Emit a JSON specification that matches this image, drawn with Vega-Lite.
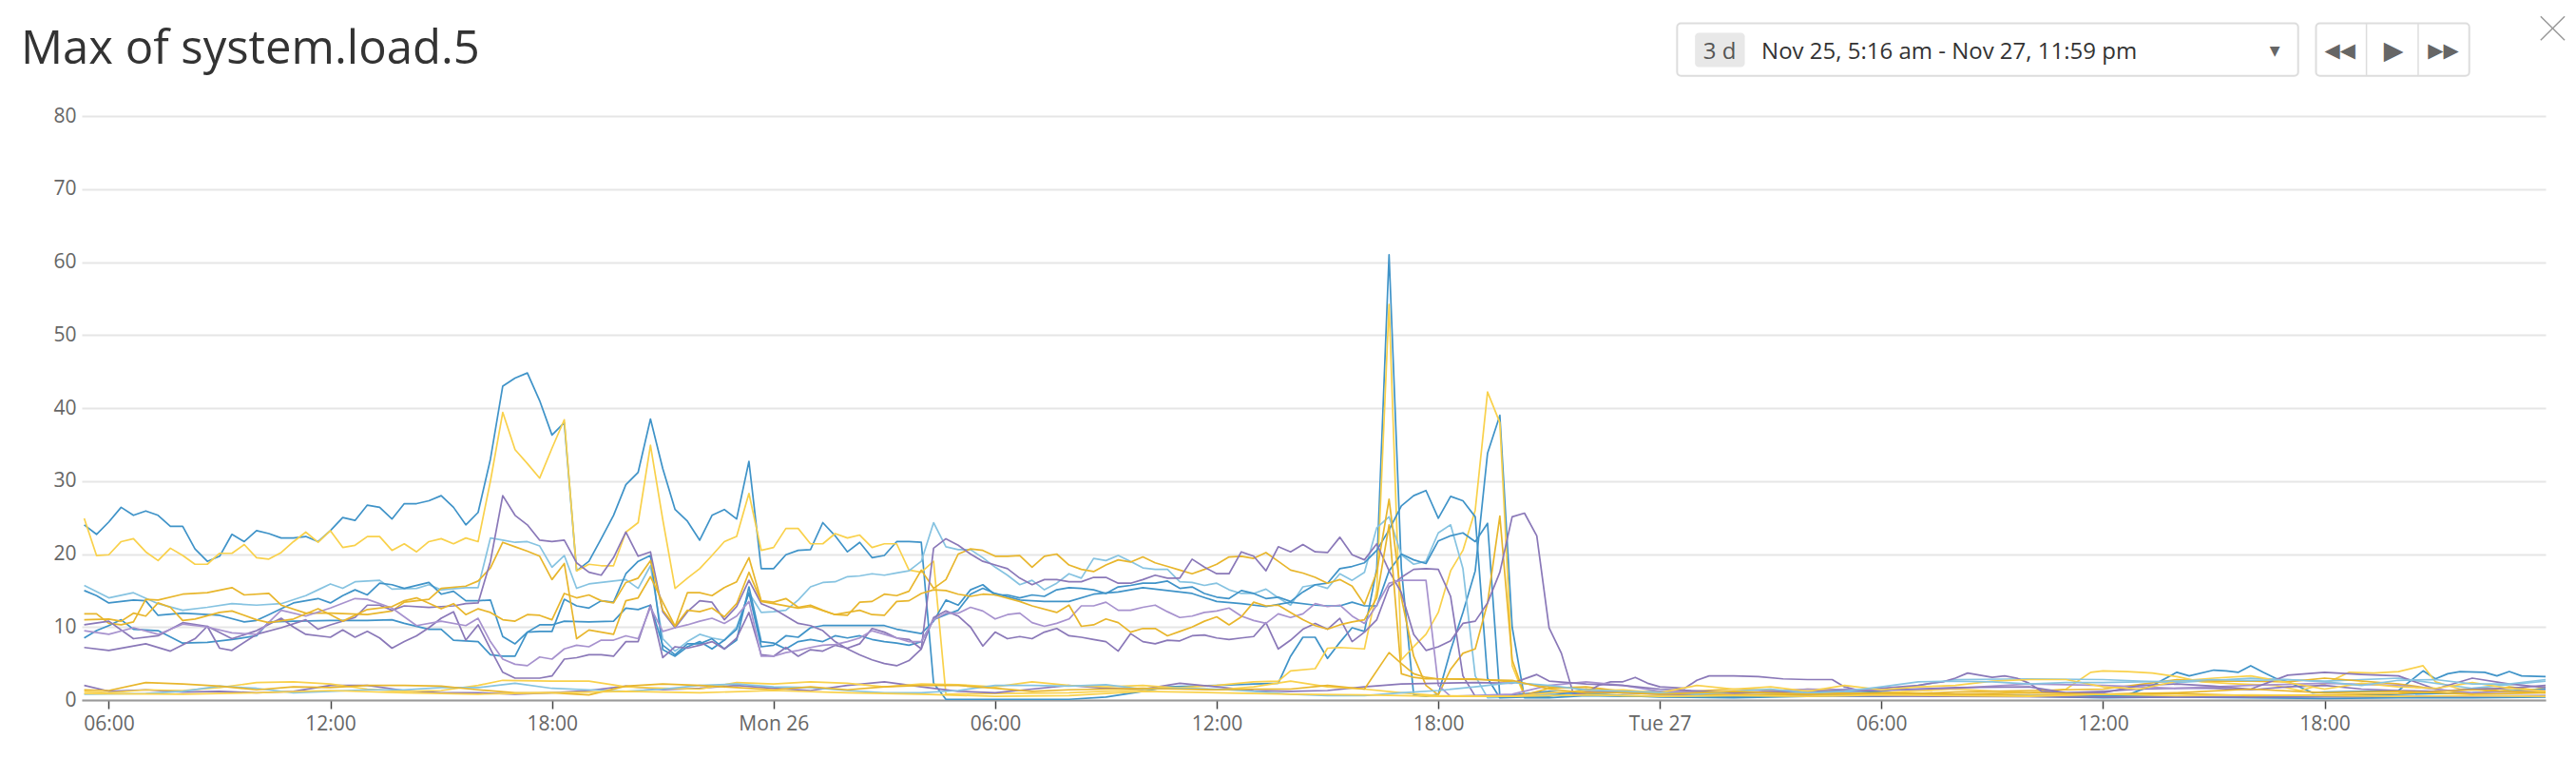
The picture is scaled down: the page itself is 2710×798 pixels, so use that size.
{
  "$schema": "https://vega.github.io/schema/vega-lite/v6.json",
  "width": 2592,
  "height": 614,
  "autosize": {"type": "none"},
  "padding": {"left": 86, "top": 122, "right": 32, "bottom": 62},
  "title": {
    "text": "Max of system.load.5",
    "anchor": "start",
    "frame": "group",
    "dx": -64,
    "offset": -100,
    "baseline": "alphabetic",
    "font": "Open Sans",
    "fontSize": 49,
    "fontWeight": "normal",
    "color": "#333333"
  },
  "config": {"view": {"stroke": null}},
  "layer": [
    {
      "data": {
        "format": {"parse": {"t": "utc:'%Y-%m-%d %H:%M'"}},
        "values": [
        {"s":"A","t":"2018-11-25 05:20","v":24.0},{"s":"A","t":"2018-11-25 05:40","v":22.7},{"s":"A","t":"2018-11-25 06:00","v":24.4},{"s":"A","t":"2018-11-25 06:20","v":26.4},{"s":"A","t":"2018-11-25 06:40","v":25.3},{"s":"A","t":"2018-11-25 07:00","v":25.9},{"s":"A","t":"2018-11-25 07:20","v":25.3},{"s":"A","t":"2018-11-25 07:40","v":23.8},{"s":"A","t":"2018-11-25 08:00","v":23.8},{"s":"A","t":"2018-11-25 08:20","v":20.7},{"s":"A","t":"2018-11-25 08:40","v":19.0},{"s":"A","t":"2018-11-25 09:00","v":19.7},{"s":"A","t":"2018-11-25 09:20","v":22.7},{"s":"A","t":"2018-11-25 09:40","v":21.7},{"s":"A","t":"2018-11-25 10:00","v":23.2},{"s":"A","t":"2018-11-25 10:20","v":22.8},{"s":"A","t":"2018-11-25 10:40","v":22.2},{"s":"A","t":"2018-11-25 11:00","v":22.2},{"s":"A","t":"2018-11-25 11:20","v":22.4},{"s":"A","t":"2018-11-25 11:40","v":21.7},{"s":"A","t":"2018-11-25 12:00","v":23.2},{"s":"A","t":"2018-11-25 12:20","v":25.0},{"s":"A","t":"2018-11-25 12:40","v":24.6},{"s":"A","t":"2018-11-25 13:00","v":26.7},{"s":"A","t":"2018-11-25 13:20","v":26.4},{"s":"A","t":"2018-11-25 13:40","v":24.8},{"s":"A","t":"2018-11-25 14:00","v":26.9},{"s":"A","t":"2018-11-25 14:20","v":26.9},{"s":"A","t":"2018-11-25 14:40","v":27.3},{"s":"A","t":"2018-11-25 15:00","v":28.0},{"s":"A","t":"2018-11-25 15:20","v":26.4},{"s":"A","t":"2018-11-25 15:40","v":24.0},{"s":"A","t":"2018-11-25 16:00","v":25.7},{"s":"A","t":"2018-11-25 16:20","v":33.0},{"s":"A","t":"2018-11-25 16:40","v":43.0},{"s":"A","t":"2018-11-25 17:00","v":44.1},{"s":"A","t":"2018-11-25 17:20","v":44.8},{"s":"A","t":"2018-11-25 17:40","v":41.0},{"s":"A","t":"2018-11-25 18:00","v":36.3},{"s":"A","t":"2018-11-25 18:20","v":38.0},{"s":"A","t":"2018-11-25 18:40","v":17.7},{"s":"A","t":"2018-11-25 19:00","v":19.0},{"s":"A","t":"2018-11-25 19:20","v":22.1},{"s":"A","t":"2018-11-25 19:40","v":25.3},{"s":"A","t":"2018-11-25 20:00","v":29.5},{"s":"A","t":"2018-11-25 20:20","v":31.2},{"s":"A","t":"2018-11-25 20:40","v":38.5},{"s":"A","t":"2018-11-25 21:00","v":31.7},{"s":"A","t":"2018-11-25 21:20","v":26.1},{"s":"A","t":"2018-11-25 21:40","v":24.5},{"s":"A","t":"2018-11-25 22:00","v":21.9},{"s":"A","t":"2018-11-25 22:20","v":25.3},{"s":"A","t":"2018-11-25 22:40","v":26.1},{"s":"A","t":"2018-11-25 23:00","v":24.8},{"s":"A","t":"2018-11-25 23:20","v":32.7},{"s":"A","t":"2018-11-25 23:40","v":18.0},
        {"s":"A","t":"2018-11-26 00:00","v":18.0},{"s":"A","t":"2018-11-26 00:20","v":19.9},{"s":"A","t":"2018-11-26 00:40","v":20.5},{"s":"A","t":"2018-11-26 01:00","v":20.6},{"s":"A","t":"2018-11-26 01:20","v":24.3},{"s":"A","t":"2018-11-26 01:40","v":22.5},{"s":"A","t":"2018-11-26 02:00","v":20.3},{"s":"A","t":"2018-11-26 02:20","v":21.6},{"s":"A","t":"2018-11-26 02:40","v":19.5},{"s":"A","t":"2018-11-26 03:00","v":19.8},{"s":"A","t":"2018-11-26 03:20","v":21.7},{"s":"A","t":"2018-11-26 03:40","v":21.7},{"s":"A","t":"2018-11-26 04:00","v":21.6},{"s":"A","t":"2018-11-26 04:20","v":2.3},{"s":"A","t":"2018-11-26 04:40","v":0.1},{"s":"A","t":"2018-11-26 06:00","v":0.1},{"s":"A","t":"2018-11-26 08:00","v":0.1},{"s":"A","t":"2018-11-26 09:00","v":0.4},{"s":"A","t":"2018-11-26 10:00","v":1.2},{"s":"A","t":"2018-11-26 10:40","v":1.8},{"s":"A","t":"2018-11-26 12:00","v":2.0},{"s":"A","t":"2018-11-26 13:00","v":2.2},{"s":"A","t":"2018-11-26 13:40","v":2.3},{"s":"A","t":"2018-11-26 14:00","v":6.0},{"s":"A","t":"2018-11-26 14:20","v":8.6},{"s":"A","t":"2018-11-26 14:40","v":8.6},{"s":"A","t":"2018-11-26 15:00","v":5.7},{"s":"A","t":"2018-11-26 15:20","v":7.9},{"s":"A","t":"2018-11-26 15:40","v":9.9},{"s":"A","t":"2018-11-26 16:00","v":9.4},{"s":"A","t":"2018-11-26 16:20","v":18.0},{"s":"A","t":"2018-11-26 16:40","v":61.0},{"s":"A","t":"2018-11-26 17:00","v":18.0},{"s":"A","t":"2018-11-26 17:20","v":0.7},{"s":"A","t":"2018-11-26 17:40","v":0.5},{"s":"A","t":"2018-11-26 18:00","v":0.8},{"s":"A","t":"2018-11-26 18:20","v":6.8},{"s":"A","t":"2018-11-26 18:40","v":12.0},{"s":"A","t":"2018-11-26 19:00","v":17.7},{"s":"A","t":"2018-11-26 19:20","v":33.8},{"s":"A","t":"2018-11-26 19:40","v":39.0},{"s":"A","t":"2018-11-26 20:00","v":10.0},{"s":"A","t":"2018-11-26 20:20","v":0.3},{"s":"A","t":"2018-11-26 21:00","v":0.3},{"s":"A","t":"2018-11-26 22:00","v":0.6},{"s":"A","t":"2018-11-26 23:00","v":0.5},
        {"s":"A","t":"2018-11-27 00:00","v":0.5},{"s":"A","t":"2018-11-27 02:00","v":0.4},{"s":"A","t":"2018-11-27 04:00","v":0.6},{"s":"A","t":"2018-11-27 06:00","v":0.5},{"s":"A","t":"2018-11-27 08:00","v":0.8},{"s":"A","t":"2018-11-27 10:00","v":0.6},{"s":"A","t":"2018-11-27 12:00","v":0.7},{"s":"A","t":"2018-11-27 12:40","v":0.7},{"s":"A","t":"2018-11-27 13:20","v":2.0},{"s":"A","t":"2018-11-27 14:00","v":3.8},{"s":"A","t":"2018-11-27 14:20","v":3.3},{"s":"A","t":"2018-11-27 15:00","v":4.1},{"s":"A","t":"2018-11-27 15:20","v":4.0},{"s":"A","t":"2018-11-27 15:40","v":3.8},{"s":"A","t":"2018-11-27 16:00","v":4.7},{"s":"A","t":"2018-11-27 16:20","v":3.8},{"s":"A","t":"2018-11-27 16:40","v":3.0},{"s":"A","t":"2018-11-27 17:00","v":2.5},{"s":"A","t":"2018-11-27 17:40","v":1.0},{"s":"A","t":"2018-11-27 18:00","v":1.1},{"s":"A","t":"2018-11-27 19:00","v":1.2},{"s":"A","t":"2018-11-27 20:00","v":1.3},{"s":"A","t":"2018-11-27 20:40","v":4.0},{"s":"A","t":"2018-11-27 21:00","v":2.9},{"s":"A","t":"2018-11-27 21:20","v":3.6},{"s":"A","t":"2018-11-27 21:40","v":3.9},{"s":"A","t":"2018-11-27 22:20","v":3.8},{"s":"A","t":"2018-11-27 22:40","v":3.3},{"s":"A","t":"2018-11-27 23:00","v":3.9},{"s":"A","t":"2018-11-27 23:20","v":3.3},{"s":"A","t":"2018-11-27 23:59","v":3.2},

        {"s":"B","t":"2018-11-25 05:20","v":24.9},{"s":"B","t":"2018-11-25 05:40","v":19.8},{"s":"B","t":"2018-11-25 06:00","v":19.9},{"s":"B","t":"2018-11-25 06:20","v":21.7},{"s":"B","t":"2018-11-25 06:40","v":22.1},{"s":"B","t":"2018-11-25 07:00","v":20.3},{"s":"B","t":"2018-11-25 07:20","v":19.1},{"s":"B","t":"2018-11-25 07:40","v":20.8},{"s":"B","t":"2018-11-25 08:00","v":19.8},{"s":"B","t":"2018-11-25 08:20","v":18.6},{"s":"B","t":"2018-11-25 08:40","v":18.6},{"s":"B","t":"2018-11-25 09:00","v":20.1},{"s":"B","t":"2018-11-25 09:20","v":20.1},{"s":"B","t":"2018-11-25 09:40","v":21.3},{"s":"B","t":"2018-11-25 10:00","v":19.5},{"s":"B","t":"2018-11-25 10:20","v":19.3},{"s":"B","t":"2018-11-25 10:40","v":20.2},{"s":"B","t":"2018-11-25 11:00","v":21.7},{"s":"B","t":"2018-11-25 11:20","v":23.0},{"s":"B","t":"2018-11-25 11:40","v":21.6},{"s":"B","t":"2018-11-25 12:00","v":23.2},{"s":"B","t":"2018-11-25 12:20","v":20.9},{"s":"B","t":"2018-11-25 12:40","v":21.2},{"s":"B","t":"2018-11-25 13:00","v":22.4},{"s":"B","t":"2018-11-25 13:20","v":22.4},{"s":"B","t":"2018-11-25 13:40","v":20.5},{"s":"B","t":"2018-11-25 14:00","v":21.4},{"s":"B","t":"2018-11-25 14:20","v":20.3},{"s":"B","t":"2018-11-25 14:40","v":21.7},{"s":"B","t":"2018-11-25 15:00","v":22.1},{"s":"B","t":"2018-11-25 15:20","v":21.4},{"s":"B","t":"2018-11-25 15:40","v":22.2},{"s":"B","t":"2018-11-25 16:00","v":21.7},{"s":"B","t":"2018-11-25 16:20","v":30.0},{"s":"B","t":"2018-11-25 16:40","v":39.4},{"s":"B","t":"2018-11-25 17:00","v":34.3},{"s":"B","t":"2018-11-25 17:20","v":32.4},{"s":"B","t":"2018-11-25 17:40","v":30.4},{"s":"B","t":"2018-11-25 18:00","v":34.5},{"s":"B","t":"2018-11-25 18:20","v":38.4},{"s":"B","t":"2018-11-25 18:40","v":17.7},{"s":"B","t":"2018-11-25 19:00","v":18.6},{"s":"B","t":"2018-11-25 19:20","v":18.4},{"s":"B","t":"2018-11-25 19:40","v":18.4},{"s":"B","t":"2018-11-25 20:00","v":23.0},{"s":"B","t":"2018-11-25 20:20","v":24.3},{"s":"B","t":"2018-11-25 20:40","v":34.9},{"s":"B","t":"2018-11-25 21:00","v":24.7},{"s":"B","t":"2018-11-25 21:20","v":15.3},{"s":"B","t":"2018-11-25 21:40","v":16.7},{"s":"B","t":"2018-11-25 22:00","v":18.0},{"s":"B","t":"2018-11-25 22:20","v":19.8},{"s":"B","t":"2018-11-25 22:40","v":21.7},{"s":"B","t":"2018-11-25 23:00","v":22.4},{"s":"B","t":"2018-11-25 23:20","v":28.3},{"s":"B","t":"2018-11-25 23:40","v":20.5},
        {"s":"B","t":"2018-11-26 00:00","v":20.9},{"s":"B","t":"2018-11-26 00:20","v":23.5},{"s":"B","t":"2018-11-26 00:40","v":23.5},{"s":"B","t":"2018-11-26 01:00","v":21.4},{"s":"B","t":"2018-11-26 01:20","v":21.4},{"s":"B","t":"2018-11-26 01:40","v":22.8},{"s":"B","t":"2018-11-26 02:00","v":22.2},{"s":"B","t":"2018-11-26 02:20","v":22.6},{"s":"B","t":"2018-11-26 02:40","v":20.9},{"s":"B","t":"2018-11-26 03:00","v":21.4},{"s":"B","t":"2018-11-26 03:20","v":21.4},{"s":"B","t":"2018-11-26 03:40","v":17.8},{"s":"B","t":"2018-11-26 04:00","v":17.5},{"s":"B","t":"2018-11-26 04:20","v":19.0},{"s":"B","t":"2018-11-26 04:40","v":0.8},{"s":"B","t":"2018-11-26 06:00","v":0.9},{"s":"B","t":"2018-11-26 08:00","v":1.0},{"s":"B","t":"2018-11-26 10:00","v":1.4},{"s":"B","t":"2018-11-26 12:00","v":2.0},{"s":"B","t":"2018-11-26 13:00","v":2.5},{"s":"B","t":"2018-11-26 13:40","v":2.6},{"s":"B","t":"2018-11-26 14:00","v":4.0},{"s":"B","t":"2018-11-26 14:40","v":4.3},{"s":"B","t":"2018-11-26 15:00","v":7.1},{"s":"B","t":"2018-11-26 15:20","v":7.2},{"s":"B","t":"2018-11-26 16:00","v":7.0},{"s":"B","t":"2018-11-26 16:20","v":15.0},{"s":"B","t":"2018-11-26 16:40","v":54.2},{"s":"B","t":"2018-11-26 17:00","v":5.5},{"s":"B","t":"2018-11-26 17:20","v":7.3},{"s":"B","t":"2018-11-26 17:40","v":9.0},{"s":"B","t":"2018-11-26 18:00","v":12.0},{"s":"B","t":"2018-11-26 18:20","v":17.7},{"s":"B","t":"2018-11-26 18:40","v":20.5},{"s":"B","t":"2018-11-26 19:00","v":26.0},{"s":"B","t":"2018-11-26 19:20","v":42.2},{"s":"B","t":"2018-11-26 19:40","v":38.0},{"s":"B","t":"2018-11-26 20:00","v":4.7},{"s":"B","t":"2018-11-26 20:20","v":0.5},{"s":"B","t":"2018-11-26 21:00","v":0.6},{"s":"B","t":"2018-11-26 22:00","v":0.8},{"s":"B","t":"2018-11-26 23:00","v":0.6},
        {"s":"B","t":"2018-11-27 00:00","v":0.5},{"s":"B","t":"2018-11-27 02:00","v":0.8},{"s":"B","t":"2018-11-27 04:00","v":1.5},{"s":"B","t":"2018-11-27 06:00","v":1.0},{"s":"B","t":"2018-11-27 08:00","v":1.5},{"s":"B","t":"2018-11-27 10:00","v":1.0},{"s":"B","t":"2018-11-27 11:00","v":1.5},{"s":"B","t":"2018-11-27 11:40","v":3.8},{"s":"B","t":"2018-11-27 12:00","v":4.0},{"s":"B","t":"2018-11-27 12:40","v":3.9},{"s":"B","t":"2018-11-27 13:20","v":3.7},{"s":"B","t":"2018-11-27 14:00","v":3.2},{"s":"B","t":"2018-11-27 14:40","v":2.5},{"s":"B","t":"2018-11-27 15:40","v":2.2},{"s":"B","t":"2018-11-27 16:40","v":2.0},{"s":"B","t":"2018-11-27 17:20","v":1.3},{"s":"B","t":"2018-11-27 18:00","v":2.2},{"s":"B","t":"2018-11-27 18:40","v":3.8},{"s":"B","t":"2018-11-27 19:20","v":3.7},{"s":"B","t":"2018-11-27 20:00","v":3.9},{"s":"B","t":"2018-11-27 20:40","v":4.7},{"s":"B","t":"2018-11-27 21:00","v":2.5},{"s":"B","t":"2018-11-27 21:40","v":1.5},{"s":"B","t":"2018-11-27 22:40","v":1.6},{"s":"B","t":"2018-11-27 23:20","v":1.0},{"s":"B","t":"2018-11-27 23:59","v":1.8},

        {"s":"C","t":"2018-11-25 05:20","v":15.7},{"s":"C","t":"2018-11-25 06:00","v":14.0},{"s":"C","t":"2018-11-25 06:40","v":14.7},{"s":"C","t":"2018-11-25 07:20","v":13.2},{"s":"C","t":"2018-11-25 08:00","v":12.3},{"s":"C","t":"2018-11-25 08:40","v":12.7},{"s":"C","t":"2018-11-25 09:20","v":13.2},{"s":"C","t":"2018-11-25 10:00","v":13.0},{"s":"C","t":"2018-11-25 10:40","v":13.2},{"s":"C","t":"2018-11-25 11:20","v":14.3},{"s":"C","t":"2018-11-25 11:40","v":15.1},{"s":"C","t":"2018-11-25 12:00","v":15.9},{"s":"C","t":"2018-11-25 12:20","v":15.3},{"s":"C","t":"2018-11-25 12:40","v":16.2},{"s":"C","t":"2018-11-25 13:20","v":16.4},{"s":"C","t":"2018-11-25 13:40","v":15.2},{"s":"C","t":"2018-11-25 14:20","v":15.3},{"s":"C","t":"2018-11-25 14:40","v":15.8},{"s":"C","t":"2018-11-25 15:00","v":15.1},{"s":"C","t":"2018-11-25 15:40","v":15.4},{"s":"C","t":"2018-11-25 16:00","v":15.4},{"s":"C","t":"2018-11-25 16:20","v":22.2},{"s":"C","t":"2018-11-25 16:40","v":21.9},{"s":"C","t":"2018-11-25 17:00","v":21.6},{"s":"C","t":"2018-11-25 17:20","v":21.7},{"s":"C","t":"2018-11-25 17:40","v":21.1},{"s":"C","t":"2018-11-25 18:00","v":18.2},{"s":"C","t":"2018-11-25 18:20","v":19.8},{"s":"C","t":"2018-11-25 18:40","v":15.3},{"s":"C","t":"2018-11-25 19:00","v":15.9},{"s":"C","t":"2018-11-25 19:20","v":16.1},{"s":"C","t":"2018-11-25 19:40","v":16.3},{"s":"C","t":"2018-11-25 20:00","v":16.5},{"s":"C","t":"2018-11-25 20:20","v":15.3},{"s":"C","t":"2018-11-25 20:40","v":18.4},{"s":"C","t":"2018-11-25 21:00","v":8.4},{"s":"C","t":"2018-11-25 21:20","v":6.7},{"s":"C","t":"2018-11-25 21:40","v":8.0},{"s":"C","t":"2018-11-25 22:00","v":9.0},{"s":"C","t":"2018-11-25 22:20","v":8.5},{"s":"C","t":"2018-11-25 22:40","v":8.2},{"s":"C","t":"2018-11-25 23:00","v":10.0},{"s":"C","t":"2018-11-25 23:20","v":14.7},{"s":"C","t":"2018-11-25 23:40","v":12.0},
        {"s":"C","t":"2018-11-26 00:00","v":12.1},{"s":"C","t":"2018-11-26 00:20","v":12.3},{"s":"C","t":"2018-11-26 00:40","v":13.7},{"s":"C","t":"2018-11-26 01:00","v":15.5},{"s":"C","t":"2018-11-26 01:20","v":16.1},{"s":"C","t":"2018-11-26 01:40","v":16.2},{"s":"C","t":"2018-11-26 02:00","v":16.9},{"s":"C","t":"2018-11-26 02:20","v":17.0},{"s":"C","t":"2018-11-26 02:40","v":17.3},{"s":"C","t":"2018-11-26 03:00","v":17.1},{"s":"C","t":"2018-11-26 03:20","v":17.4},{"s":"C","t":"2018-11-26 03:40","v":17.7},{"s":"C","t":"2018-11-26 04:00","v":19.0},{"s":"C","t":"2018-11-26 04:20","v":24.3},{"s":"C","t":"2018-11-26 04:40","v":21.0},{"s":"C","t":"2018-11-26 05:00","v":20.6},{"s":"C","t":"2018-11-26 05:20","v":20.6},{"s":"C","t":"2018-11-26 05:40","v":19.5},{"s":"C","t":"2018-11-26 06:00","v":18.2},{"s":"C","t":"2018-11-26 06:20","v":17.1},{"s":"C","t":"2018-11-26 06:40","v":15.8},{"s":"C","t":"2018-11-26 07:00","v":16.4},{"s":"C","t":"2018-11-26 07:20","v":15.1},{"s":"C","t":"2018-11-26 07:40","v":16.0},{"s":"C","t":"2018-11-26 08:00","v":17.3},{"s":"C","t":"2018-11-26 08:20","v":16.7},{"s":"C","t":"2018-11-26 08:40","v":19.4},{"s":"C","t":"2018-11-26 09:00","v":19.1},{"s":"C","t":"2018-11-26 09:20","v":19.8},{"s":"C","t":"2018-11-26 09:40","v":19.0},{"s":"C","t":"2018-11-26 10:00","v":18.1},{"s":"C","t":"2018-11-26 10:20","v":17.9},{"s":"C","t":"2018-11-26 10:40","v":17.9},{"s":"C","t":"2018-11-26 11:00","v":16.2},{"s":"C","t":"2018-11-26 11:20","v":16.1},{"s":"C","t":"2018-11-26 11:40","v":15.7},{"s":"C","t":"2018-11-26 12:00","v":16.0},{"s":"C","t":"2018-11-26 12:20","v":15.1},{"s":"C","t":"2018-11-26 12:40","v":14.6},{"s":"C","t":"2018-11-26 13:00","v":14.6},{"s":"C","t":"2018-11-26 13:20","v":15.2},{"s":"C","t":"2018-11-26 13:40","v":14.0},{"s":"C","t":"2018-11-26 14:00","v":13.0},{"s":"C","t":"2018-11-26 14:20","v":15.5},{"s":"C","t":"2018-11-26 14:40","v":15.8},{"s":"C","t":"2018-11-26 15:00","v":15.3},{"s":"C","t":"2018-11-26 15:20","v":17.3},{"s":"C","t":"2018-11-26 15:40","v":16.4},{"s":"C","t":"2018-11-26 16:00","v":17.5},{"s":"C","t":"2018-11-26 16:20","v":23.6},{"s":"C","t":"2018-11-26 16:40","v":25.1},{"s":"C","t":"2018-11-26 17:00","v":19.9},{"s":"C","t":"2018-11-26 17:20","v":18.6},{"s":"C","t":"2018-11-26 17:40","v":19.0},{"s":"C","t":"2018-11-26 18:00","v":22.9},{"s":"C","t":"2018-11-26 18:20","v":24.0},{"s":"C","t":"2018-11-26 18:40","v":18.0},{"s":"C","t":"2018-11-26 19:00","v":3.3},{"s":"C","t":"2018-11-26 19:20","v":0.3},{"s":"C","t":"2018-11-26 20:00","v":0.4},{"s":"C","t":"2018-11-26 21:00","v":0.8},{"s":"C","t":"2018-11-26 22:00","v":1.0},{"s":"C","t":"2018-11-26 23:00","v":0.6},
        {"s":"C","t":"2018-11-27 00:00","v":0.5},{"s":"C","t":"2018-11-27 02:00","v":0.6},{"s":"C","t":"2018-11-27 04:00","v":1.0},{"s":"C","t":"2018-11-27 06:00","v":1.2},{"s":"C","t":"2018-11-27 07:00","v":2.0},{"s":"C","t":"2018-11-27 08:00","v":2.8},{"s":"C","t":"2018-11-27 10:00","v":2.9},{"s":"C","t":"2018-11-27 12:00","v":2.8},{"s":"C","t":"2018-11-27 14:00","v":2.4},{"s":"C","t":"2018-11-27 16:00","v":3.0},{"s":"C","t":"2018-11-27 18:00","v":2.6},{"s":"C","t":"2018-11-27 20:00","v":3.0},{"s":"C","t":"2018-11-27 22:00","v":1.6},{"s":"C","t":"2018-11-27 23:59","v":2.6},

        {"s":"D","t":"2018-11-25 05:20","v":15.0},{"s":"D","t":"2018-11-25 05:40","v":14.3},{"s":"D","t":"2018-11-25 06:00","v":13.3},{"s":"D","t":"2018-11-25 06:40","v":13.7},{"s":"D","t":"2018-11-25 07:00","v":13.6},{"s":"D","t":"2018-11-25 07:20","v":11.6},{"s":"D","t":"2018-11-25 08:00","v":11.9},{"s":"D","t":"2018-11-25 09:00","v":11.6},{"s":"D","t":"2018-11-25 09:40","v":10.7},{"s":"D","t":"2018-11-25 10:00","v":10.9},{"s":"D","t":"2018-11-25 10:20","v":11.7},{"s":"D","t":"2018-11-25 10:40","v":12.5},{"s":"D","t":"2018-11-25 11:00","v":13.3},{"s":"D","t":"2018-11-25 11:40","v":13.9},{"s":"D","t":"2018-11-25 12:00","v":13.3},{"s":"D","t":"2018-11-25 12:20","v":14.3},{"s":"D","t":"2018-11-25 12:40","v":15.1},{"s":"D","t":"2018-11-25 13:00","v":14.4},{"s":"D","t":"2018-11-25 13:20","v":16.0},{"s":"D","t":"2018-11-25 13:40","v":15.8},{"s":"D","t":"2018-11-25 14:00","v":15.3},{"s":"D","t":"2018-11-25 14:40","v":16.1},{"s":"D","t":"2018-11-25 15:00","v":14.5},{"s":"D","t":"2018-11-25 15:20","v":14.9},{"s":"D","t":"2018-11-25 15:40","v":13.6},{"s":"D","t":"2018-11-25 16:00","v":13.6},{"s":"D","t":"2018-11-25 16:20","v":13.7},{"s":"D","t":"2018-11-25 16:40","v":8.7},{"s":"D","t":"2018-11-25 17:00","v":7.7},{"s":"D","t":"2018-11-25 17:20","v":9.3},{"s":"D","t":"2018-11-25 17:40","v":9.4},{"s":"D","t":"2018-11-25 18:00","v":9.4},{"s":"D","t":"2018-11-25 18:20","v":13.8},{"s":"D","t":"2018-11-25 18:40","v":12.9},{"s":"D","t":"2018-11-25 19:00","v":12.6},{"s":"D","t":"2018-11-25 19:20","v":13.6},{"s":"D","t":"2018-11-25 19:40","v":13.4},{"s":"D","t":"2018-11-25 20:00","v":17.3},{"s":"D","t":"2018-11-25 20:20","v":19.0},{"s":"D","t":"2018-11-25 20:40","v":19.8},{"s":"D","t":"2018-11-25 21:00","v":6.9},{"s":"D","t":"2018-11-25 21:20","v":6.0},{"s":"D","t":"2018-11-25 21:40","v":7.3},{"s":"D","t":"2018-11-25 22:00","v":8.0},{"s":"D","t":"2018-11-25 22:20","v":7.0},{"s":"D","t":"2018-11-25 22:40","v":8.2},{"s":"D","t":"2018-11-25 23:00","v":9.7},{"s":"D","t":"2018-11-25 23:20","v":14.7},{"s":"D","t":"2018-11-25 23:40","v":7.3},
        {"s":"D","t":"2018-11-26 00:00","v":7.5},{"s":"D","t":"2018-11-26 00:20","v":8.8},{"s":"D","t":"2018-11-26 00:40","v":8.6},{"s":"D","t":"2018-11-26 01:00","v":9.9},{"s":"D","t":"2018-11-26 01:20","v":10.2},{"s":"D","t":"2018-11-26 02:00","v":10.2},{"s":"D","t":"2018-11-26 03:00","v":10.2},{"s":"D","t":"2018-11-26 03:20","v":9.7},{"s":"D","t":"2018-11-26 03:40","v":9.4},{"s":"D","t":"2018-11-26 04:00","v":9.1},{"s":"D","t":"2018-11-26 04:20","v":10.8},{"s":"D","t":"2018-11-26 04:40","v":13.7},{"s":"D","t":"2018-11-26 05:00","v":13.0},{"s":"D","t":"2018-11-26 05:20","v":15.1},{"s":"D","t":"2018-11-26 05:40","v":15.8},{"s":"D","t":"2018-11-26 06:00","v":14.4},{"s":"D","t":"2018-11-26 06:20","v":14.4},{"s":"D","t":"2018-11-26 06:40","v":14.0},{"s":"D","t":"2018-11-26 07:00","v":14.4},{"s":"D","t":"2018-11-26 07:20","v":14.2},{"s":"D","t":"2018-11-26 07:40","v":15.1},{"s":"D","t":"2018-11-26 08:00","v":15.4},{"s":"D","t":"2018-11-26 08:20","v":15.3},{"s":"D","t":"2018-11-26 08:40","v":15.1},{"s":"D","t":"2018-11-26 09:00","v":14.6},{"s":"D","t":"2018-11-26 09:20","v":15.5},{"s":"D","t":"2018-11-26 09:40","v":15.7},{"s":"D","t":"2018-11-26 10:00","v":16.0},{"s":"D","t":"2018-11-26 10:20","v":16.0},{"s":"D","t":"2018-11-26 10:40","v":16.3},{"s":"D","t":"2018-11-26 11:00","v":15.3},{"s":"D","t":"2018-11-26 11:20","v":15.5},{"s":"D","t":"2018-11-26 11:40","v":14.6},{"s":"D","t":"2018-11-26 12:00","v":14.1},{"s":"D","t":"2018-11-26 12:20","v":13.9},{"s":"D","t":"2018-11-26 12:40","v":15.0},{"s":"D","t":"2018-11-26 13:00","v":14.6},{"s":"D","t":"2018-11-26 13:20","v":13.9},{"s":"D","t":"2018-11-26 13:40","v":14.1},{"s":"D","t":"2018-11-26 14:00","v":13.5},{"s":"D","t":"2018-11-26 14:20","v":14.8},{"s":"D","t":"2018-11-26 14:40","v":15.8},{"s":"D","t":"2018-11-26 15:00","v":16.0},{"s":"D","t":"2018-11-26 15:20","v":18.0},{"s":"D","t":"2018-11-26 15:40","v":18.3},{"s":"D","t":"2018-11-26 16:00","v":18.8},{"s":"D","t":"2018-11-26 16:20","v":20.5},{"s":"D","t":"2018-11-26 16:40","v":23.3},{"s":"D","t":"2018-11-26 17:00","v":26.6},{"s":"D","t":"2018-11-26 17:20","v":28.0},{"s":"D","t":"2018-11-26 17:40","v":28.7},{"s":"D","t":"2018-11-26 18:00","v":24.9},{"s":"D","t":"2018-11-26 18:20","v":27.9},{"s":"D","t":"2018-11-26 18:40","v":27.3},{"s":"D","t":"2018-11-26 19:00","v":25.1},{"s":"D","t":"2018-11-26 19:20","v":3.0},{"s":"D","t":"2018-11-26 19:40","v":0.3},{"s":"D","t":"2018-11-26 21:00","v":0.5},{"s":"D","t":"2018-11-26 22:00","v":1.5},{"s":"D","t":"2018-11-26 23:00","v":1.0},
        {"s":"D","t":"2018-11-27 00:00","v":1.2},{"s":"D","t":"2018-11-27 01:00","v":0.7},{"s":"D","t":"2018-11-27 02:00","v":0.4},{"s":"D","t":"2018-11-27 04:00","v":0.8},{"s":"D","t":"2018-11-27 05:00","v":1.5},{"s":"D","t":"2018-11-27 06:00","v":1.0},{"s":"D","t":"2018-11-27 08:00","v":0.6},{"s":"D","t":"2018-11-27 10:00","v":0.5},{"s":"D","t":"2018-11-27 12:00","v":0.6},{"s":"D","t":"2018-11-27 14:00","v":0.5},{"s":"D","t":"2018-11-27 16:00","v":0.4},{"s":"D","t":"2018-11-27 18:00","v":0.5},{"s":"D","t":"2018-11-27 20:00","v":0.8},{"s":"D","t":"2018-11-27 22:00","v":1.0},{"s":"D","t":"2018-11-27 23:59","v":1.5},

        {"s":"E","t":"2018-11-25 05:20","v":8.5},{"s":"E","t":"2018-11-25 05:40","v":9.5},{"s":"E","t":"2018-11-25 06:00","v":10.2},{"s":"E","t":"2018-11-25 06:20","v":11.0},{"s":"E","t":"2018-11-25 06:40","v":9.7},{"s":"E","t":"2018-11-25 07:20","v":9.5},{"s":"E","t":"2018-11-25 08:00","v":7.8},{"s":"E","t":"2018-11-25 08:40","v":7.9},{"s":"E","t":"2018-11-25 09:20","v":8.3},{"s":"E","t":"2018-11-25 10:00","v":8.8},{"s":"E","t":"2018-11-25 10:20","v":10.7},{"s":"E","t":"2018-11-25 11:00","v":10.8},{"s":"E","t":"2018-11-25 12:00","v":10.9},{"s":"E","t":"2018-11-25 13:00","v":10.9},{"s":"E","t":"2018-11-25 13:40","v":11.0},{"s":"E","t":"2018-11-25 14:00","v":10.5},{"s":"E","t":"2018-11-25 14:40","v":9.7},{"s":"E","t":"2018-11-25 15:00","v":9.7},{"s":"E","t":"2018-11-25 15:20","v":8.2},{"s":"E","t":"2018-11-25 16:00","v":8.0},{"s":"E","t":"2018-11-25 16:20","v":6.2},{"s":"E","t":"2018-11-25 16:40","v":6.0},{"s":"E","t":"2018-11-25 17:00","v":6.0},{"s":"E","t":"2018-11-25 17:20","v":9.3},{"s":"E","t":"2018-11-25 17:40","v":10.3},{"s":"E","t":"2018-11-25 18:00","v":10.3},{"s":"E","t":"2018-11-25 18:20","v":10.8},{"s":"E","t":"2018-11-25 19:00","v":10.7},{"s":"E","t":"2018-11-25 19:40","v":10.8},{"s":"E","t":"2018-11-25 20:00","v":12.6},{"s":"E","t":"2018-11-25 20:20","v":12.4},{"s":"E","t":"2018-11-25 20:40","v":13.0},{"s":"E","t":"2018-11-25 21:00","v":7.5},{"s":"E","t":"2018-11-25 21:20","v":6.2},{"s":"E","t":"2018-11-25 21:40","v":7.7},{"s":"E","t":"2018-11-25 22:00","v":7.7},{"s":"E","t":"2018-11-25 22:20","v":8.4},{"s":"E","t":"2018-11-25 22:40","v":7.0},{"s":"E","t":"2018-11-25 23:00","v":8.2},{"s":"E","t":"2018-11-25 23:20","v":15.5},{"s":"E","t":"2018-11-25 23:40","v":8.0},
        {"s":"E","t":"2018-11-26 00:00","v":7.8},{"s":"E","t":"2018-11-26 00:20","v":7.0},{"s":"E","t":"2018-11-26 00:40","v":8.0},{"s":"E","t":"2018-11-26 01:00","v":8.3},{"s":"E","t":"2018-11-26 01:20","v":8.0},{"s":"E","t":"2018-11-26 01:40","v":8.8},{"s":"E","t":"2018-11-26 02:00","v":8.5},{"s":"E","t":"2018-11-26 02:20","v":8.8},{"s":"E","t":"2018-11-26 02:40","v":8.3},{"s":"E","t":"2018-11-26 03:00","v":8.0},{"s":"E","t":"2018-11-26 03:20","v":7.8},{"s":"E","t":"2018-11-26 03:40","v":7.5},{"s":"E","t":"2018-11-26 04:00","v":8.0},{"s":"E","t":"2018-11-26 04:20","v":11.0},{"s":"E","t":"2018-11-26 04:40","v":11.7},{"s":"E","t":"2018-11-26 05:00","v":12.3},{"s":"E","t":"2018-11-26 05:20","v":14.5},{"s":"E","t":"2018-11-26 05:40","v":15.3},{"s":"E","t":"2018-11-26 06:00","v":14.6},{"s":"E","t":"2018-11-26 06:40","v":13.7},{"s":"E","t":"2018-11-26 07:20","v":13.5},{"s":"E","t":"2018-11-26 08:00","v":13.5},{"s":"E","t":"2018-11-26 08:40","v":14.5},{"s":"E","t":"2018-11-26 09:20","v":14.8},{"s":"E","t":"2018-11-26 10:00","v":15.4},{"s":"E","t":"2018-11-26 10:40","v":15.0},{"s":"E","t":"2018-11-26 11:20","v":14.6},{"s":"E","t":"2018-11-26 12:00","v":13.5},{"s":"E","t":"2018-11-26 12:40","v":13.2},{"s":"E","t":"2018-11-26 13:20","v":12.8},{"s":"E","t":"2018-11-26 14:00","v":13.4},{"s":"E","t":"2018-11-26 14:40","v":13.0},{"s":"E","t":"2018-11-26 15:00","v":12.9},{"s":"E","t":"2018-11-26 15:20","v":12.9},{"s":"E","t":"2018-11-26 15:40","v":13.4},{"s":"E","t":"2018-11-26 16:00","v":12.9},{"s":"E","t":"2018-11-26 16:20","v":12.9},{"s":"E","t":"2018-11-26 16:40","v":17.7},{"s":"E","t":"2018-11-26 17:00","v":20.0},{"s":"E","t":"2018-11-26 17:20","v":19.2},{"s":"E","t":"2018-11-26 17:40","v":18.7},{"s":"E","t":"2018-11-26 18:00","v":21.8},{"s":"E","t":"2018-11-26 18:20","v":22.5},{"s":"E","t":"2018-11-26 18:40","v":22.9},{"s":"E","t":"2018-11-26 19:00","v":21.7},{"s":"E","t":"2018-11-26 19:20","v":24.2},{"s":"E","t":"2018-11-26 19:40","v":0.5},{"s":"E","t":"2018-11-26 21:00","v":1.2},{"s":"E","t":"2018-11-26 22:00","v":0.8},
        {"s":"E","t":"2018-11-27 00:00","v":0.4},{"s":"E","t":"2018-11-27 02:00","v":0.3},{"s":"E","t":"2018-11-27 04:00","v":0.5},{"s":"E","t":"2018-11-27 06:00","v":0.9},{"s":"E","t":"2018-11-27 08:00","v":0.6},{"s":"E","t":"2018-11-27 10:00","v":0.5},{"s":"E","t":"2018-11-27 12:00","v":0.3},{"s":"E","t":"2018-11-27 14:00","v":0.4},{"s":"E","t":"2018-11-27 16:00","v":0.3},{"s":"E","t":"2018-11-27 18:00","v":0.2},{"s":"E","t":"2018-11-27 20:00","v":0.3},{"s":"E","t":"2018-11-27 22:00","v":0.3},{"s":"E","t":"2018-11-27 23:59","v":0.4},

        {"s":"F","t":"2018-11-25 05:20","v":11.8},{"s":"F","t":"2018-11-25 05:40","v":11.8},{"s":"F","t":"2018-11-25 06:00","v":10.5},{"s":"F","t":"2018-11-25 06:20","v":10.3},{"s":"F","t":"2018-11-25 06:40","v":10.7},{"s":"F","t":"2018-11-25 07:00","v":13.8},{"s":"F","t":"2018-11-25 07:20","v":13.7},{"s":"F","t":"2018-11-25 08:00","v":14.5},{"s":"F","t":"2018-11-25 08:40","v":14.7},{"s":"F","t":"2018-11-25 09:20","v":15.4},{"s":"F","t":"2018-11-25 09:40","v":14.4},{"s":"F","t":"2018-11-25 10:20","v":14.6},{"s":"F","t":"2018-11-25 10:40","v":13.0},{"s":"F","t":"2018-11-25 11:20","v":11.9},{"s":"F","t":"2018-11-25 12:00","v":11.9},{"s":"F","t":"2018-11-25 13:00","v":11.7},{"s":"F","t":"2018-11-25 13:40","v":12.2},{"s":"F","t":"2018-11-25 14:00","v":13.4},{"s":"F","t":"2018-11-25 14:40","v":13.8},{"s":"F","t":"2018-11-25 15:00","v":15.3},{"s":"F","t":"2018-11-25 15:40","v":15.6},{"s":"F","t":"2018-11-25 16:00","v":16.3},{"s":"F","t":"2018-11-25 16:20","v":18.1},{"s":"F","t":"2018-11-25 16:40","v":21.6},{"s":"F","t":"2018-11-25 17:00","v":21.0},{"s":"F","t":"2018-11-25 17:20","v":20.4},{"s":"F","t":"2018-11-25 17:40","v":19.7},{"s":"F","t":"2018-11-25 18:00","v":16.5},{"s":"F","t":"2018-11-25 18:20","v":18.7},{"s":"F","t":"2018-11-25 18:40","v":8.4},{"s":"F","t":"2018-11-25 19:00","v":9.6},{"s":"F","t":"2018-11-25 19:20","v":9.3},{"s":"F","t":"2018-11-25 19:40","v":9.0},{"s":"F","t":"2018-11-25 20:00","v":13.6},{"s":"F","t":"2018-11-25 20:20","v":14.0},{"s":"F","t":"2018-11-25 20:40","v":16.9},{"s":"F","t":"2018-11-25 21:00","v":13.4},{"s":"F","t":"2018-11-25 21:20","v":10.1},{"s":"F","t":"2018-11-25 21:40","v":14.7},{"s":"F","t":"2018-11-25 22:00","v":14.7},{"s":"F","t":"2018-11-25 22:20","v":14.3},{"s":"F","t":"2018-11-25 22:40","v":15.4},{"s":"F","t":"2018-11-25 23:00","v":16.2},{"s":"F","t":"2018-11-25 23:20","v":19.5},{"s":"F","t":"2018-11-25 23:40","v":13.6},
        {"s":"F","t":"2018-11-26 00:00","v":13.4},{"s":"F","t":"2018-11-26 00:20","v":13.9},{"s":"F","t":"2018-11-26 00:40","v":12.7},{"s":"F","t":"2018-11-26 01:00","v":13.0},{"s":"F","t":"2018-11-26 01:20","v":12.3},{"s":"F","t":"2018-11-26 01:40","v":11.7},{"s":"F","t":"2018-11-26 02:00","v":11.6},{"s":"F","t":"2018-11-26 02:20","v":13.4},{"s":"F","t":"2018-11-26 02:40","v":13.5},{"s":"F","t":"2018-11-26 03:00","v":14.5},{"s":"F","t":"2018-11-26 03:20","v":14.3},{"s":"F","t":"2018-11-26 03:40","v":14.9},{"s":"F","t":"2018-11-26 04:00","v":17.8},{"s":"F","t":"2018-11-26 04:20","v":15.3},{"s":"F","t":"2018-11-26 04:40","v":16.5},{"s":"F","t":"2018-11-26 05:00","v":20.0},{"s":"F","t":"2018-11-26 05:20","v":20.7},{"s":"F","t":"2018-11-26 05:40","v":20.5},{"s":"F","t":"2018-11-26 06:00","v":19.7},{"s":"F","t":"2018-11-26 06:20","v":19.7},{"s":"F","t":"2018-11-26 06:40","v":19.8},{"s":"F","t":"2018-11-26 07:00","v":18.2},{"s":"F","t":"2018-11-26 07:20","v":19.7},{"s":"F","t":"2018-11-26 07:40","v":20.0},{"s":"F","t":"2018-11-26 08:00","v":18.5},{"s":"F","t":"2018-11-26 08:20","v":17.9},{"s":"F","t":"2018-11-26 08:40","v":17.6},{"s":"F","t":"2018-11-26 09:00","v":18.5},{"s":"F","t":"2018-11-26 09:20","v":19.2},{"s":"F","t":"2018-11-26 09:40","v":18.9},{"s":"F","t":"2018-11-26 10:00","v":19.6},{"s":"F","t":"2018-11-26 10:20","v":18.8},{"s":"F","t":"2018-11-26 10:40","v":18.3},{"s":"F","t":"2018-11-26 11:00","v":17.8},{"s":"F","t":"2018-11-26 11:20","v":17.3},{"s":"F","t":"2018-11-26 11:40","v":17.9},{"s":"F","t":"2018-11-26 12:00","v":18.6},{"s":"F","t":"2018-11-26 12:20","v":19.6},{"s":"F","t":"2018-11-26 12:40","v":19.7},{"s":"F","t":"2018-11-26 13:00","v":19.4},{"s":"F","t":"2018-11-26 13:20","v":20.2},{"s":"F","t":"2018-11-26 13:40","v":19.0},{"s":"F","t":"2018-11-26 14:00","v":17.8},{"s":"F","t":"2018-11-26 14:20","v":17.4},{"s":"F","t":"2018-11-26 14:40","v":16.8},{"s":"F","t":"2018-11-26 15:00","v":16.0},{"s":"F","t":"2018-11-26 15:20","v":16.5},{"s":"F","t":"2018-11-26 15:40","v":15.6},{"s":"F","t":"2018-11-26 16:00","v":13.1},{"s":"F","t":"2018-11-26 16:20","v":17.5},{"s":"F","t":"2018-11-26 16:40","v":27.5},{"s":"F","t":"2018-11-26 17:00","v":14.0},{"s":"F","t":"2018-11-26 17:20","v":6.0},{"s":"F","t":"2018-11-26 17:40","v":2.0},{"s":"F","t":"2018-11-26 18:00","v":0.7},{"s":"F","t":"2018-11-26 18:20","v":4.2},{"s":"F","t":"2018-11-26 18:40","v":6.4},{"s":"F","t":"2018-11-26 19:00","v":7.0},{"s":"F","t":"2018-11-26 19:20","v":13.3},{"s":"F","t":"2018-11-26 19:40","v":25.2},{"s":"F","t":"2018-11-26 20:00","v":5.5},{"s":"F","t":"2018-11-26 20:20","v":0.7},{"s":"F","t":"2018-11-26 21:00","v":1.6},{"s":"F","t":"2018-11-26 22:00","v":1.8},{"s":"F","t":"2018-11-26 23:00","v":1.2},
        {"s":"F","t":"2018-11-27 00:00","v":1.0},{"s":"F","t":"2018-11-27 02:00","v":1.5},{"s":"F","t":"2018-11-27 04:00","v":1.2},{"s":"F","t":"2018-11-27 06:00","v":0.7},{"s":"F","t":"2018-11-27 08:00","v":1.1},{"s":"F","t":"2018-11-27 10:00","v":1.3},{"s":"F","t":"2018-11-27 12:00","v":1.5},{"s":"F","t":"2018-11-27 14:00","v":2.8},{"s":"F","t":"2018-11-27 15:00","v":2.6},{"s":"F","t":"2018-11-27 16:00","v":2.6},{"s":"F","t":"2018-11-27 17:00","v":2.5},{"s":"F","t":"2018-11-27 18:00","v":3.0},{"s":"F","t":"2018-11-27 20:00","v":2.2},{"s":"F","t":"2018-11-27 21:00","v":1.5},{"s":"F","t":"2018-11-27 22:00","v":0.8},{"s":"F","t":"2018-11-27 23:00","v":1.8},{"s":"F","t":"2018-11-27 23:59","v":1.2},

        {"s":"G","t":"2018-11-25 05:20","v":10.3},{"s":"G","t":"2018-11-25 06:00","v":10.8},{"s":"G","t":"2018-11-25 06:40","v":8.4},{"s":"G","t":"2018-11-25 07:20","v":8.8},{"s":"G","t":"2018-11-25 08:00","v":10.6},{"s":"G","t":"2018-11-25 08:40","v":10.1},{"s":"G","t":"2018-11-25 09:00","v":7.1},{"s":"G","t":"2018-11-25 09:20","v":6.8},{"s":"G","t":"2018-11-25 10:00","v":9.0},{"s":"G","t":"2018-11-25 10:40","v":9.9},{"s":"G","t":"2018-11-25 11:20","v":11.0},{"s":"G","t":"2018-11-25 11:40","v":9.7},{"s":"G","t":"2018-11-25 12:00","v":10.3},{"s":"G","t":"2018-11-25 12:40","v":11.3},{"s":"G","t":"2018-11-25 13:00","v":13.0},{"s":"G","t":"2018-11-25 13:20","v":13.0},{"s":"G","t":"2018-11-25 13:40","v":12.3},{"s":"G","t":"2018-11-25 14:00","v":12.9},{"s":"G","t":"2018-11-25 14:40","v":12.7},{"s":"G","t":"2018-11-25 15:20","v":12.9},{"s":"G","t":"2018-11-25 15:40","v":13.2},{"s":"G","t":"2018-11-25 16:00","v":13.3},{"s":"G","t":"2018-11-25 16:20","v":19.0},{"s":"G","t":"2018-11-25 16:40","v":28.0},{"s":"G","t":"2018-11-25 17:00","v":25.3},{"s":"G","t":"2018-11-25 17:20","v":24.0},{"s":"G","t":"2018-11-25 17:40","v":21.9},{"s":"G","t":"2018-11-25 18:00","v":21.7},{"s":"G","t":"2018-11-25 18:20","v":21.9},{"s":"G","t":"2018-11-25 18:40","v":18.8},{"s":"G","t":"2018-11-25 19:00","v":17.5},{"s":"G","t":"2018-11-25 19:20","v":17.1},{"s":"G","t":"2018-11-25 19:40","v":19.5},{"s":"G","t":"2018-11-25 20:00","v":23.0},{"s":"G","t":"2018-11-25 20:20","v":19.7},{"s":"G","t":"2018-11-25 20:40","v":20.3},{"s":"G","t":"2018-11-25 21:00","v":12.1},{"s":"G","t":"2018-11-25 21:20","v":9.9},{"s":"G","t":"2018-11-25 21:40","v":12.1},{"s":"G","t":"2018-11-25 22:00","v":13.6},{"s":"G","t":"2018-11-25 22:20","v":13.4},{"s":"G","t":"2018-11-25 22:40","v":11.0},{"s":"G","t":"2018-11-25 23:00","v":12.8},{"s":"G","t":"2018-11-25 23:20","v":16.4},{"s":"G","t":"2018-11-25 23:40","v":13.2},
        {"s":"G","t":"2018-11-26 00:00","v":12.5},{"s":"G","t":"2018-11-26 00:40","v":10.5},{"s":"G","t":"2018-11-26 01:00","v":10.2},{"s":"G","t":"2018-11-26 01:20","v":9.5},{"s":"G","t":"2018-11-26 01:40","v":8.0},{"s":"G","t":"2018-11-26 02:00","v":7.0},{"s":"G","t":"2018-11-26 02:20","v":6.2},{"s":"G","t":"2018-11-26 02:40","v":5.5},{"s":"G","t":"2018-11-26 03:00","v":5.0},{"s":"G","t":"2018-11-26 03:20","v":4.7},{"s":"G","t":"2018-11-26 03:40","v":5.4},{"s":"G","t":"2018-11-26 04:00","v":7.0},{"s":"G","t":"2018-11-26 04:20","v":20.8},{"s":"G","t":"2018-11-26 04:40","v":22.1},{"s":"G","t":"2018-11-26 05:00","v":21.2},{"s":"G","t":"2018-11-26 05:20","v":20.0},{"s":"G","t":"2018-11-26 05:40","v":19.0},{"s":"G","t":"2018-11-26 06:00","v":18.5},{"s":"G","t":"2018-11-26 06:20","v":18.0},{"s":"G","t":"2018-11-26 06:40","v":16.7},{"s":"G","t":"2018-11-26 07:00","v":15.8},{"s":"G","t":"2018-11-26 07:20","v":16.5},{"s":"G","t":"2018-11-26 07:40","v":16.5},{"s":"G","t":"2018-11-26 08:00","v":16.2},{"s":"G","t":"2018-11-26 08:20","v":16.2},{"s":"G","t":"2018-11-26 08:40","v":16.8},{"s":"G","t":"2018-11-26 09:00","v":16.8},{"s":"G","t":"2018-11-26 09:20","v":16.0},{"s":"G","t":"2018-11-26 09:40","v":16.0},{"s":"G","t":"2018-11-26 10:00","v":16.5},{"s":"G","t":"2018-11-26 10:20","v":17.1},{"s":"G","t":"2018-11-26 10:40","v":16.7},{"s":"G","t":"2018-11-26 11:00","v":16.7},{"s":"G","t":"2018-11-26 11:20","v":19.3},{"s":"G","t":"2018-11-26 11:40","v":18.2},{"s":"G","t":"2018-11-26 12:00","v":17.3},{"s":"G","t":"2018-11-26 12:20","v":17.3},{"s":"G","t":"2018-11-26 12:40","v":20.3},{"s":"G","t":"2018-11-26 13:00","v":19.7},{"s":"G","t":"2018-11-26 13:20","v":17.7},{"s":"G","t":"2018-11-26 13:40","v":21.0},{"s":"G","t":"2018-11-26 14:00","v":20.3},{"s":"G","t":"2018-11-26 14:20","v":21.3},{"s":"G","t":"2018-11-26 14:40","v":20.3},{"s":"G","t":"2018-11-26 15:00","v":20.2},{"s":"G","t":"2018-11-26 15:20","v":22.3},{"s":"G","t":"2018-11-26 15:40","v":19.9},{"s":"G","t":"2018-11-26 16:00","v":19.2},{"s":"G","t":"2018-11-26 16:20","v":21.4},{"s":"G","t":"2018-11-26 16:40","v":17.7},{"s":"G","t":"2018-11-26 17:00","v":14.7},{"s":"G","t":"2018-11-26 17:20","v":9.0},{"s":"G","t":"2018-11-26 17:40","v":6.8},{"s":"G","t":"2018-11-26 18:00","v":7.3},{"s":"G","t":"2018-11-26 18:20","v":8.1},{"s":"G","t":"2018-11-26 18:40","v":10.5},{"s":"G","t":"2018-11-26 19:00","v":10.8},{"s":"G","t":"2018-11-26 19:20","v":13.3},{"s":"G","t":"2018-11-26 19:40","v":17.5},{"s":"G","t":"2018-11-26 20:00","v":25.1},{"s":"G","t":"2018-11-26 20:20","v":25.6},{"s":"G","t":"2018-11-26 20:40","v":22.5},{"s":"G","t":"2018-11-26 21:00","v":9.9},{"s":"G","t":"2018-11-26 21:20","v":6.4},{"s":"G","t":"2018-11-26 21:40","v":0.7},{"s":"G","t":"2018-11-26 22:00","v":1.0},{"s":"G","t":"2018-11-26 22:20","v":2.0},{"s":"G","t":"2018-11-26 22:40","v":2.5},{"s":"G","t":"2018-11-26 23:00","v":2.5},{"s":"G","t":"2018-11-26 23:20","v":3.1},{"s":"G","t":"2018-11-26 23:40","v":2.3},
        {"s":"G","t":"2018-11-27 00:00","v":1.8},{"s":"G","t":"2018-11-27 00:40","v":1.6},{"s":"G","t":"2018-11-27 01:00","v":2.7},{"s":"G","t":"2018-11-27 01:20","v":3.3},{"s":"G","t":"2018-11-27 02:00","v":3.3},{"s":"G","t":"2018-11-27 02:40","v":3.2},{"s":"G","t":"2018-11-27 03:20","v":2.9},{"s":"G","t":"2018-11-27 04:00","v":2.8},{"s":"G","t":"2018-11-27 04:40","v":2.8},{"s":"G","t":"2018-11-27 05:00","v":1.8},{"s":"G","t":"2018-11-27 05:20","v":1.4},{"s":"G","t":"2018-11-27 06:00","v":1.6},{"s":"G","t":"2018-11-27 07:00","v":2.0},{"s":"G","t":"2018-11-27 07:20","v":2.3},{"s":"G","t":"2018-11-27 07:40","v":2.5},{"s":"G","t":"2018-11-27 08:00","v":3.0},{"s":"G","t":"2018-11-27 08:20","v":3.7},{"s":"G","t":"2018-11-27 09:00","v":3.1},{"s":"G","t":"2018-11-27 09:20","v":3.3},{"s":"G","t":"2018-11-27 09:40","v":3.0},{"s":"G","t":"2018-11-27 10:00","v":2.3},{"s":"G","t":"2018-11-27 10:20","v":1.2},{"s":"G","t":"2018-11-27 11:00","v":1.0},{"s":"G","t":"2018-11-27 12:00","v":1.2},{"s":"G","t":"2018-11-27 13:00","v":1.5},{"s":"G","t":"2018-11-27 14:00","v":1.6},{"s":"G","t":"2018-11-27 15:00","v":1.6},{"s":"G","t":"2018-11-27 16:00","v":1.4},{"s":"G","t":"2018-11-27 17:00","v":1.8},{"s":"G","t":"2018-11-27 18:00","v":2.0},{"s":"G","t":"2018-11-27 19:00","v":1.5},{"s":"G","t":"2018-11-27 20:00","v":1.3},{"s":"G","t":"2018-11-27 21:00","v":1.2},{"s":"G","t":"2018-11-27 22:00","v":1.5},{"s":"G","t":"2018-11-27 23:00","v":1.6},{"s":"G","t":"2018-11-27 23:59","v":2.0},

        {"s":"H","t":"2018-11-25 05:20","v":7.2},{"s":"H","t":"2018-11-25 06:00","v":6.8},{"s":"H","t":"2018-11-25 07:00","v":7.7},{"s":"H","t":"2018-11-25 07:40","v":6.7},{"s":"H","t":"2018-11-25 08:20","v":8.4},{"s":"H","t":"2018-11-25 08:40","v":10.1},{"s":"H","t":"2018-11-25 09:20","v":8.4},{"s":"H","t":"2018-11-25 10:00","v":9.5},{"s":"H","t":"2018-11-25 10:40","v":11.2},{"s":"H","t":"2018-11-25 11:00","v":10.0},{"s":"H","t":"2018-11-25 11:20","v":9.0},{"s":"H","t":"2018-11-25 12:00","v":8.6},{"s":"H","t":"2018-11-25 12:20","v":9.6},{"s":"H","t":"2018-11-25 12:40","v":8.6},{"s":"H","t":"2018-11-25 13:00","v":9.4},{"s":"H","t":"2018-11-25 13:20","v":8.5},{"s":"H","t":"2018-11-25 13:40","v":7.1},{"s":"H","t":"2018-11-25 14:00","v":8.0},{"s":"H","t":"2018-11-25 14:20","v":8.8},{"s":"H","t":"2018-11-25 14:40","v":9.9},{"s":"H","t":"2018-11-25 15:00","v":11.2},{"s":"H","t":"2018-11-25 15:20","v":12.1},{"s":"H","t":"2018-11-25 15:40","v":8.2},{"s":"H","t":"2018-11-25 16:00","v":10.3},{"s":"H","t":"2018-11-25 16:20","v":7.0},{"s":"H","t":"2018-11-25 16:40","v":3.8},{"s":"H","t":"2018-11-25 17:00","v":3.0},{"s":"H","t":"2018-11-25 17:20","v":3.0},{"s":"H","t":"2018-11-25 17:40","v":3.0},{"s":"H","t":"2018-11-25 18:00","v":3.3},{"s":"H","t":"2018-11-25 18:20","v":5.6},{"s":"H","t":"2018-11-25 18:40","v":5.8},{"s":"H","t":"2018-11-25 19:00","v":6.2},{"s":"H","t":"2018-11-25 19:20","v":6.2},{"s":"H","t":"2018-11-25 19:40","v":6.0},{"s":"H","t":"2018-11-25 20:00","v":8.0},{"s":"H","t":"2018-11-25 20:20","v":8.0},{"s":"H","t":"2018-11-25 20:40","v":13.0},{"s":"H","t":"2018-11-25 21:00","v":5.8},{"s":"H","t":"2018-11-25 21:20","v":7.3},{"s":"H","t":"2018-11-25 21:40","v":7.1},{"s":"H","t":"2018-11-25 22:00","v":7.5},{"s":"H","t":"2018-11-25 22:20","v":8.0},{"s":"H","t":"2018-11-25 22:40","v":7.0},{"s":"H","t":"2018-11-25 23:00","v":8.5},{"s":"H","t":"2018-11-25 23:20","v":12.0},{"s":"H","t":"2018-11-25 23:40","v":6.2},
        {"s":"H","t":"2018-11-26 00:00","v":6.0},{"s":"H","t":"2018-11-26 00:20","v":7.2},{"s":"H","t":"2018-11-26 00:40","v":6.0},{"s":"H","t":"2018-11-26 01:00","v":6.9},{"s":"H","t":"2018-11-26 01:20","v":6.7},{"s":"H","t":"2018-11-26 01:40","v":7.5},{"s":"H","t":"2018-11-26 02:00","v":7.1},{"s":"H","t":"2018-11-26 02:20","v":7.7},{"s":"H","t":"2018-11-26 02:40","v":9.8},{"s":"H","t":"2018-11-26 03:00","v":9.3},{"s":"H","t":"2018-11-26 03:20","v":8.5},{"s":"H","t":"2018-11-26 03:40","v":8.3},{"s":"H","t":"2018-11-26 04:00","v":7.0},{"s":"H","t":"2018-11-26 04:20","v":11.3},{"s":"H","t":"2018-11-26 04:40","v":12.2},{"s":"H","t":"2018-11-26 05:00","v":11.5},{"s":"H","t":"2018-11-26 05:20","v":10.0},{"s":"H","t":"2018-11-26 05:40","v":7.4},{"s":"H","t":"2018-11-26 06:00","v":9.3},{"s":"H","t":"2018-11-26 06:20","v":8.4},{"s":"H","t":"2018-11-26 06:40","v":8.7},{"s":"H","t":"2018-11-26 07:00","v":8.4},{"s":"H","t":"2018-11-26 07:20","v":9.3},{"s":"H","t":"2018-11-26 07:40","v":9.8},{"s":"H","t":"2018-11-26 08:00","v":8.8},{"s":"H","t":"2018-11-26 08:20","v":8.6},{"s":"H","t":"2018-11-26 08:40","v":8.3},{"s":"H","t":"2018-11-26 09:00","v":8.0},{"s":"H","t":"2018-11-26 09:20","v":6.7},{"s":"H","t":"2018-11-26 09:40","v":9.1},{"s":"H","t":"2018-11-26 10:00","v":8.0},{"s":"H","t":"2018-11-26 10:20","v":7.7},{"s":"H","t":"2018-11-26 10:40","v":8.2},{"s":"H","t":"2018-11-26 11:00","v":8.1},{"s":"H","t":"2018-11-26 11:20","v":8.8},{"s":"H","t":"2018-11-26 11:40","v":8.9},{"s":"H","t":"2018-11-26 12:00","v":8.5},{"s":"H","t":"2018-11-26 12:20","v":8.3},{"s":"H","t":"2018-11-26 12:40","v":8.5},{"s":"H","t":"2018-11-26 13:00","v":8.7},{"s":"H","t":"2018-11-26 13:20","v":10.6},{"s":"H","t":"2018-11-26 13:40","v":7.0},{"s":"H","t":"2018-11-26 14:00","v":8.2},{"s":"H","t":"2018-11-26 14:20","v":9.7},{"s":"H","t":"2018-11-26 14:40","v":10.5},{"s":"H","t":"2018-11-26 15:00","v":9.7},{"s":"H","t":"2018-11-26 15:20","v":11.2},{"s":"H","t":"2018-11-26 15:40","v":8.0},{"s":"H","t":"2018-11-26 16:00","v":9.3},{"s":"H","t":"2018-11-26 16:20","v":11.0},{"s":"H","t":"2018-11-26 16:40","v":15.5},{"s":"H","t":"2018-11-26 17:00","v":16.8},{"s":"H","t":"2018-11-26 17:20","v":17.9},{"s":"H","t":"2018-11-26 17:40","v":18.0},{"s":"H","t":"2018-11-26 18:00","v":17.9},{"s":"H","t":"2018-11-26 18:20","v":14.2},{"s":"H","t":"2018-11-26 18:40","v":3.3},{"s":"H","t":"2018-11-26 19:00","v":0.5},{"s":"H","t":"2018-11-26 20:00","v":0.6},{"s":"H","t":"2018-11-26 21:00","v":1.0},{"s":"H","t":"2018-11-26 22:00","v":1.2},
        {"s":"H","t":"2018-11-27 00:00","v":0.8},{"s":"H","t":"2018-11-27 04:00","v":0.6},{"s":"H","t":"2018-11-27 08:00","v":0.5},{"s":"H","t":"2018-11-27 12:00","v":0.4},{"s":"H","t":"2018-11-27 16:00","v":0.4},{"s":"H","t":"2018-11-27 20:00","v":0.5},{"s":"H","t":"2018-11-27 23:59","v":0.6},

        {"s":"I","t":"2018-11-25 05:20","v":9.5},{"s":"I","t":"2018-11-25 06:00","v":9.0},{"s":"I","t":"2018-11-25 06:40","v":9.9},{"s":"I","t":"2018-11-25 07:20","v":9.0},{"s":"I","t":"2018-11-25 08:00","v":10.4},{"s":"I","t":"2018-11-25 08:40","v":10.0},{"s":"I","t":"2018-11-25 09:20","v":9.2},{"s":"I","t":"2018-11-25 10:00","v":9.0},{"s":"I","t":"2018-11-25 10:40","v":12.3},{"s":"I","t":"2018-11-25 11:20","v":11.5},{"s":"I","t":"2018-11-25 12:00","v":12.6},{"s":"I","t":"2018-11-25 12:40","v":13.9},{"s":"I","t":"2018-11-25 13:00","v":13.8},{"s":"I","t":"2018-11-25 13:40","v":12.6},{"s":"I","t":"2018-11-25 14:20","v":10.2},{"s":"I","t":"2018-11-25 15:00","v":10.8},{"s":"I","t":"2018-11-25 15:40","v":10.2},{"s":"I","t":"2018-11-25 16:00","v":11.2},{"s":"I","t":"2018-11-25 16:20","v":8.0},{"s":"I","t":"2018-11-25 16:40","v":5.6},{"s":"I","t":"2018-11-25 17:00","v":4.9},{"s":"I","t":"2018-11-25 17:20","v":4.7},{"s":"I","t":"2018-11-25 17:40","v":5.9},{"s":"I","t":"2018-11-25 18:00","v":5.6},{"s":"I","t":"2018-11-25 18:20","v":7.0},{"s":"I","t":"2018-11-25 18:40","v":7.5},{"s":"I","t":"2018-11-25 19:00","v":7.3},{"s":"I","t":"2018-11-25 19:20","v":8.2},{"s":"I","t":"2018-11-25 19:40","v":8.2},{"s":"I","t":"2018-11-25 20:00","v":8.8},{"s":"I","t":"2018-11-25 20:20","v":8.4},{"s":"I","t":"2018-11-25 20:40","v":12.7},{"s":"I","t":"2018-11-25 21:00","v":9.4},{"s":"I","t":"2018-11-25 21:20","v":9.9},{"s":"I","t":"2018-11-25 21:40","v":10.3},{"s":"I","t":"2018-11-25 22:00","v":10.8},{"s":"I","t":"2018-11-25 22:20","v":11.2},{"s":"I","t":"2018-11-25 22:40","v":10.5},{"s":"I","t":"2018-11-25 23:00","v":11.5},{"s":"I","t":"2018-11-25 23:20","v":13.5},{"s":"I","t":"2018-11-25 23:40","v":6.0},
        {"s":"I","t":"2018-11-26 00:00","v":6.0},{"s":"I","t":"2018-11-26 00:20","v":6.5},{"s":"I","t":"2018-11-26 00:40","v":6.8},{"s":"I","t":"2018-11-26 01:00","v":7.2},{"s":"I","t":"2018-11-26 01:20","v":7.5},{"s":"I","t":"2018-11-26 01:40","v":7.6},{"s":"I","t":"2018-11-26 02:00","v":8.0},{"s":"I","t":"2018-11-26 02:20","v":8.5},{"s":"I","t":"2018-11-26 02:40","v":9.5},{"s":"I","t":"2018-11-26 03:00","v":9.0},{"s":"I","t":"2018-11-26 03:20","v":8.5},{"s":"I","t":"2018-11-26 03:40","v":8.0},{"s":"I","t":"2018-11-26 04:00","v":8.0},{"s":"I","t":"2018-11-26 04:20","v":11.0},{"s":"I","t":"2018-11-26 04:40","v":11.9},{"s":"I","t":"2018-11-26 05:00","v":11.9},{"s":"I","t":"2018-11-26 05:20","v":12.7},{"s":"I","t":"2018-11-26 05:40","v":12.2},{"s":"I","t":"2018-11-26 06:00","v":11.1},{"s":"I","t":"2018-11-26 06:20","v":11.7},{"s":"I","t":"2018-11-26 06:40","v":11.9},{"s":"I","t":"2018-11-26 07:00","v":10.6},{"s":"I","t":"2018-11-26 07:20","v":10.1},{"s":"I","t":"2018-11-26 07:40","v":10.5},{"s":"I","t":"2018-11-26 08:00","v":11.1},{"s":"I","t":"2018-11-26 08:20","v":12.9},{"s":"I","t":"2018-11-26 08:40","v":12.9},{"s":"I","t":"2018-11-26 09:00","v":13.4},{"s":"I","t":"2018-11-26 09:20","v":12.3},{"s":"I","t":"2018-11-26 09:40","v":12.3},{"s":"I","t":"2018-11-26 10:00","v":12.7},{"s":"I","t":"2018-11-26 10:20","v":13.0},{"s":"I","t":"2018-11-26 10:40","v":12.1},{"s":"I","t":"2018-11-26 11:00","v":11.3},{"s":"I","t":"2018-11-26 11:20","v":11.5},{"s":"I","t":"2018-11-26 11:40","v":12.0},{"s":"I","t":"2018-11-26 12:00","v":12.2},{"s":"I","t":"2018-11-26 12:20","v":12.6},{"s":"I","t":"2018-11-26 12:40","v":11.5},{"s":"I","t":"2018-11-26 13:00","v":10.9},{"s":"I","t":"2018-11-26 13:20","v":10.5},{"s":"I","t":"2018-11-26 13:40","v":11.8},{"s":"I","t":"2018-11-26 14:00","v":11.3},{"s":"I","t":"2018-11-26 14:20","v":11.8},{"s":"I","t":"2018-11-26 14:40","v":13.2},{"s":"I","t":"2018-11-26 15:00","v":12.8},{"s":"I","t":"2018-11-26 15:20","v":13.0},{"s":"I","t":"2018-11-26 15:40","v":11.5},{"s":"I","t":"2018-11-26 16:00","v":10.5},{"s":"I","t":"2018-11-26 16:20","v":13.0},{"s":"I","t":"2018-11-26 16:40","v":16.0},{"s":"I","t":"2018-11-26 17:00","v":16.4},{"s":"I","t":"2018-11-26 17:20","v":16.4},{"s":"I","t":"2018-11-26 17:40","v":16.4},{"s":"I","t":"2018-11-26 18:00","v":2.0},{"s":"I","t":"2018-11-26 18:20","v":0.5},{"s":"I","t":"2018-11-26 20:00","v":0.8},{"s":"I","t":"2018-11-26 21:00","v":2.0},{"s":"I","t":"2018-11-26 22:00","v":2.5},{"s":"I","t":"2018-11-26 23:00","v":2.0},
        {"s":"I","t":"2018-11-27 00:00","v":1.2},{"s":"I","t":"2018-11-27 02:00","v":1.0},{"s":"I","t":"2018-11-27 04:00","v":1.5},{"s":"I","t":"2018-11-27 06:00","v":1.4},{"s":"I","t":"2018-11-27 08:00","v":1.6},{"s":"I","t":"2018-11-27 10:00","v":2.2},{"s":"I","t":"2018-11-27 12:00","v":2.0},{"s":"I","t":"2018-11-27 14:00","v":1.6},{"s":"I","t":"2018-11-27 16:00","v":2.0},{"s":"I","t":"2018-11-27 18:00","v":2.3},{"s":"I","t":"2018-11-27 20:00","v":2.0},{"s":"I","t":"2018-11-27 22:00","v":1.0},{"s":"I","t":"2018-11-27 23:59","v":1.3},

        {"s":"J","t":"2018-11-25 05:20","v":11.0},{"s":"J","t":"2018-11-25 06:00","v":11.1},{"s":"J","t":"2018-11-25 06:20","v":10.8},{"s":"J","t":"2018-11-25 06:40","v":11.9},{"s":"J","t":"2018-11-25 07:00","v":11.5},{"s":"J","t":"2018-11-25 07:20","v":13.3},{"s":"J","t":"2018-11-25 07:40","v":12.7},{"s":"J","t":"2018-11-25 08:00","v":10.9},{"s":"J","t":"2018-11-25 08:20","v":11.1},{"s":"J","t":"2018-11-25 09:00","v":12.0},{"s":"J","t":"2018-11-25 09:20","v":12.2},{"s":"J","t":"2018-11-25 10:00","v":11.0},{"s":"J","t":"2018-11-25 10:20","v":10.6},{"s":"J","t":"2018-11-25 11:00","v":11.1},{"s":"J","t":"2018-11-25 11:40","v":12.5},{"s":"J","t":"2018-11-25 12:00","v":11.7},{"s":"J","t":"2018-11-25 12:20","v":10.8},{"s":"J","t":"2018-11-25 13:00","v":12.4},{"s":"J","t":"2018-11-25 13:40","v":12.8},{"s":"J","t":"2018-11-25 14:00","v":13.6},{"s":"J","t":"2018-11-25 14:20","v":14.0},{"s":"J","t":"2018-11-25 15:00","v":12.5},{"s":"J","t":"2018-11-25 15:20","v":13.2},{"s":"J","t":"2018-11-25 15:40","v":11.7},{"s":"J","t":"2018-11-25 16:00","v":12.5},{"s":"J","t":"2018-11-25 16:20","v":12.0},{"s":"J","t":"2018-11-25 16:40","v":11.0},{"s":"J","t":"2018-11-25 17:00","v":10.8},{"s":"J","t":"2018-11-25 17:20","v":11.7},{"s":"J","t":"2018-11-25 17:40","v":11.6},{"s":"J","t":"2018-11-25 18:00","v":11.0},{"s":"J","t":"2018-11-25 18:20","v":14.6},{"s":"J","t":"2018-11-25 18:40","v":14.0},{"s":"J","t":"2018-11-25 19:00","v":14.4},{"s":"J","t":"2018-11-25 19:20","v":13.6},{"s":"J","t":"2018-11-25 19:40","v":13.3},{"s":"J","t":"2018-11-25 20:00","v":16.1},{"s":"J","t":"2018-11-25 20:20","v":16.7},{"s":"J","t":"2018-11-25 20:40","v":19.1},{"s":"J","t":"2018-11-25 21:00","v":12.3},{"s":"J","t":"2018-11-25 21:20","v":10.1},{"s":"J","t":"2018-11-25 21:40","v":12.3},{"s":"J","t":"2018-11-25 22:00","v":12.1},{"s":"J","t":"2018-11-25 22:20","v":12.6},{"s":"J","t":"2018-11-25 22:40","v":11.4},{"s":"J","t":"2018-11-25 23:00","v":13.2},{"s":"J","t":"2018-11-25 23:20","v":17.5},{"s":"J","t":"2018-11-25 23:40","v":13.5},
        {"s":"J","t":"2018-11-26 00:00","v":13.2},{"s":"J","t":"2018-11-26 00:40","v":12.6},{"s":"J","t":"2018-11-26 01:00","v":12.8},{"s":"J","t":"2018-11-26 01:40","v":11.7},{"s":"J","t":"2018-11-26 02:00","v":12.0},{"s":"J","t":"2018-11-26 02:20","v":12.3},{"s":"J","t":"2018-11-26 02:40","v":11.7},{"s":"J","t":"2018-11-26 03:00","v":11.6},{"s":"J","t":"2018-11-26 03:20","v":13.5},{"s":"J","t":"2018-11-26 03:40","v":13.6},{"s":"J","t":"2018-11-26 04:00","v":14.6},{"s":"J","t":"2018-11-26 04:20","v":15.1},{"s":"J","t":"2018-11-26 04:40","v":15.0},{"s":"J","t":"2018-11-26 05:00","v":14.5},{"s":"J","t":"2018-11-26 05:20","v":14.2},{"s":"J","t":"2018-11-26 05:40","v":14.5},{"s":"J","t":"2018-11-26 06:00","v":14.4},{"s":"J","t":"2018-11-26 06:40","v":13.5},{"s":"J","t":"2018-11-26 07:00","v":12.9},{"s":"J","t":"2018-11-26 07:40","v":12.0},{"s":"J","t":"2018-11-26 08:00","v":13.0},{"s":"J","t":"2018-11-26 08:20","v":10.1},{"s":"J","t":"2018-11-26 08:40","v":10.3},{"s":"J","t":"2018-11-26 09:00","v":11.1},{"s":"J","t":"2018-11-26 09:20","v":10.6},{"s":"J","t":"2018-11-26 09:40","v":9.3},{"s":"J","t":"2018-11-26 10:00","v":9.8},{"s":"J","t":"2018-11-26 10:20","v":9.8},{"s":"J","t":"2018-11-26 10:40","v":8.8},{"s":"J","t":"2018-11-26 11:00","v":9.4},{"s":"J","t":"2018-11-26 11:20","v":10.0},{"s":"J","t":"2018-11-26 11:40","v":10.8},{"s":"J","t":"2018-11-26 12:00","v":11.4},{"s":"J","t":"2018-11-26 12:20","v":10.3},{"s":"J","t":"2018-11-26 12:40","v":11.4},{"s":"J","t":"2018-11-26 13:00","v":13.4},{"s":"J","t":"2018-11-26 13:20","v":12.9},{"s":"J","t":"2018-11-26 13:40","v":13.0},{"s":"J","t":"2018-11-26 14:00","v":12.0},{"s":"J","t":"2018-11-26 14:20","v":11.0},{"s":"J","t":"2018-11-26 14:40","v":10.2},{"s":"J","t":"2018-11-26 15:00","v":9.7},{"s":"J","t":"2018-11-26 15:20","v":10.3},{"s":"J","t":"2018-11-26 15:40","v":10.7},{"s":"J","t":"2018-11-26 16:00","v":11.0},{"s":"J","t":"2018-11-26 16:20","v":14.0},{"s":"J","t":"2018-11-26 16:40","v":24.0},{"s":"J","t":"2018-11-26 17:00","v":3.6},{"s":"J","t":"2018-11-26 17:20","v":3.1},{"s":"J","t":"2018-11-26 17:40","v":2.9},{"s":"J","t":"2018-11-26 18:00","v":2.9},{"s":"J","t":"2018-11-26 19:00","v":2.9},{"s":"J","t":"2018-11-26 20:00","v":2.5},{"s":"J","t":"2018-11-26 21:00","v":1.8},{"s":"J","t":"2018-11-26 22:00","v":1.5},{"s":"J","t":"2018-11-26 23:00","v":1.2},
        {"s":"J","t":"2018-11-27 00:00","v":0.9},{"s":"J","t":"2018-11-27 02:00","v":0.7},{"s":"J","t":"2018-11-27 04:00","v":0.8},{"s":"J","t":"2018-11-27 06:00","v":1.0},{"s":"J","t":"2018-11-27 08:00","v":0.8},{"s":"J","t":"2018-11-27 10:00","v":0.6},{"s":"J","t":"2018-11-27 12:00","v":0.8},{"s":"J","t":"2018-11-27 14:00","v":0.9},{"s":"J","t":"2018-11-27 16:00","v":0.6},{"s":"J","t":"2018-11-27 18:00","v":0.7},{"s":"J","t":"2018-11-27 20:00","v":0.9},{"s":"J","t":"2018-11-27 22:00","v":1.4},{"s":"J","t":"2018-11-27 23:59","v":1.0},

        {"s":"K","t":"2018-11-25 05:20","v":2.0},{"s":"K","t":"2018-11-25 06:00","v":1.2},{"s":"K","t":"2018-11-25 07:00","v":1.4},{"s":"K","t":"2018-11-25 08:00","v":1.1},{"s":"K","t":"2018-11-25 09:00","v":1.2},{"s":"K","t":"2018-11-25 10:00","v":1.0},{"s":"K","t":"2018-11-25 11:00","v":1.2},{"s":"K","t":"2018-11-25 12:00","v":2.0},{"s":"K","t":"2018-11-25 13:00","v":2.0},{"s":"K","t":"2018-11-25 14:00","v":1.3},{"s":"K","t":"2018-11-25 15:00","v":1.0},{"s":"K","t":"2018-11-25 16:00","v":1.0},{"s":"K","t":"2018-11-25 17:00","v":0.8},{"s":"K","t":"2018-11-25 18:00","v":1.0},{"s":"K","t":"2018-11-25 19:00","v":1.3},{"s":"K","t":"2018-11-25 20:00","v":1.9},{"s":"K","t":"2018-11-25 21:00","v":1.4},{"s":"K","t":"2018-11-25 22:00","v":1.6},{"s":"K","t":"2018-11-25 23:00","v":2.0},
        {"s":"K","t":"2018-11-26 00:00","v":1.6},{"s":"K","t":"2018-11-26 01:00","v":1.3},{"s":"K","t":"2018-11-26 02:00","v":2.0},{"s":"K","t":"2018-11-26 03:00","v":2.5},{"s":"K","t":"2018-11-26 04:00","v":1.8},{"s":"K","t":"2018-11-26 05:00","v":1.2},{"s":"K","t":"2018-11-26 06:00","v":1.0},{"s":"K","t":"2018-11-26 07:00","v":1.5},{"s":"K","t":"2018-11-26 08:00","v":2.0},{"s":"K","t":"2018-11-26 09:00","v":1.6},{"s":"K","t":"2018-11-26 10:00","v":1.5},{"s":"K","t":"2018-11-26 11:00","v":2.3},{"s":"K","t":"2018-11-26 12:00","v":1.8},{"s":"K","t":"2018-11-26 13:00","v":1.3},{"s":"K","t":"2018-11-26 14:00","v":1.2},{"s":"K","t":"2018-11-26 15:00","v":1.3},{"s":"K","t":"2018-11-26 16:00","v":1.8},{"s":"K","t":"2018-11-26 17:00","v":2.2},{"s":"K","t":"2018-11-26 18:00","v":2.3},{"s":"K","t":"2018-11-26 19:00","v":2.4},{"s":"K","t":"2018-11-26 20:00","v":2.3},{"s":"K","t":"2018-11-26 20:40","v":3.5},{"s":"K","t":"2018-11-26 21:00","v":2.6},{"s":"K","t":"2018-11-26 22:00","v":2.2},{"s":"K","t":"2018-11-26 23:00","v":2.0},
        {"s":"K","t":"2018-11-27 00:00","v":1.5},{"s":"K","t":"2018-11-27 02:00","v":1.0},{"s":"K","t":"2018-11-27 04:00","v":1.2},{"s":"K","t":"2018-11-27 06:00","v":1.3},{"s":"K","t":"2018-11-27 08:00","v":1.7},{"s":"K","t":"2018-11-27 10:00","v":1.8},{"s":"K","t":"2018-11-27 11:00","v":1.0},{"s":"K","t":"2018-11-27 12:00","v":1.0},{"s":"K","t":"2018-11-27 13:00","v":2.0},{"s":"K","t":"2018-11-27 14:00","v":2.2},{"s":"K","t":"2018-11-27 15:00","v":1.9},{"s":"K","t":"2018-11-27 16:00","v":1.5},{"s":"K","t":"2018-11-27 17:00","v":3.4},{"s":"K","t":"2018-11-27 18:00","v":3.8},{"s":"K","t":"2018-11-27 19:00","v":3.5},{"s":"K","t":"2018-11-27 20:00","v":3.3},{"s":"K","t":"2018-11-27 21:00","v":1.5},{"s":"K","t":"2018-11-27 22:00","v":3.0},{"s":"K","t":"2018-11-27 23:00","v":2.2},{"s":"K","t":"2018-11-27 23:59","v":1.7},

        {"s":"L","t":"2018-11-25 05:20","v":1.2},{"s":"L","t":"2018-11-25 06:00","v":1.0},{"s":"L","t":"2018-11-25 07:00","v":1.4},{"s":"L","t":"2018-11-25 08:00","v":1.3},{"s":"L","t":"2018-11-25 09:00","v":1.7},{"s":"L","t":"2018-11-25 10:00","v":2.4},{"s":"L","t":"2018-11-25 11:00","v":2.5},{"s":"L","t":"2018-11-25 12:00","v":2.2},{"s":"L","t":"2018-11-25 13:00","v":1.5},{"s":"L","t":"2018-11-25 14:00","v":1.2},{"s":"L","t":"2018-11-25 15:00","v":1.3},{"s":"L","t":"2018-11-25 16:00","v":2.0},{"s":"L","t":"2018-11-25 16:40","v":2.7},{"s":"L","t":"2018-11-25 18:00","v":2.6},{"s":"L","t":"2018-11-25 19:00","v":2.6},{"s":"L","t":"2018-11-25 20:00","v":1.8},{"s":"L","t":"2018-11-25 21:00","v":1.6},{"s":"L","t":"2018-11-25 22:00","v":1.5},{"s":"L","t":"2018-11-25 23:00","v":2.4},
        {"s":"L","t":"2018-11-26 00:00","v":2.2},{"s":"L","t":"2018-11-26 01:00","v":2.5},{"s":"L","t":"2018-11-26 02:00","v":2.3},{"s":"L","t":"2018-11-26 03:00","v":1.8},{"s":"L","t":"2018-11-26 04:00","v":2.2},{"s":"L","t":"2018-11-26 05:00","v":2.1},{"s":"L","t":"2018-11-26 06:00","v":1.8},{"s":"L","t":"2018-11-26 07:00","v":2.5},{"s":"L","t":"2018-11-26 08:00","v":2.0},{"s":"L","t":"2018-11-26 09:00","v":1.8},{"s":"L","t":"2018-11-26 10:00","v":2.0},{"s":"L","t":"2018-11-26 11:00","v":1.6},{"s":"L","t":"2018-11-26 12:00","v":1.4},{"s":"L","t":"2018-11-26 13:00","v":1.8},{"s":"L","t":"2018-11-26 14:00","v":2.6},{"s":"L","t":"2018-11-26 15:00","v":1.8},{"s":"L","t":"2018-11-26 16:00","v":1.5},{"s":"L","t":"2018-11-26 17:00","v":1.0},{"s":"L","t":"2018-11-26 18:00","v":0.6},{"s":"L","t":"2018-11-26 20:00","v":0.5},{"s":"L","t":"2018-11-26 21:00","v":1.0},{"s":"L","t":"2018-11-26 22:00","v":1.3},{"s":"L","t":"2018-11-26 23:00","v":1.4},
        {"s":"L","t":"2018-11-27 00:00","v":1.0},{"s":"L","t":"2018-11-27 01:00","v":2.0},{"s":"L","t":"2018-11-27 02:00","v":1.5},{"s":"L","t":"2018-11-27 03:00","v":1.8},{"s":"L","t":"2018-11-27 04:00","v":1.2},{"s":"L","t":"2018-11-27 05:00","v":2.0},{"s":"L","t":"2018-11-27 06:00","v":1.4},{"s":"L","t":"2018-11-27 07:00","v":1.8},{"s":"L","t":"2018-11-27 08:00","v":2.0},{"s":"L","t":"2018-11-27 09:00","v":2.6},{"s":"L","t":"2018-11-27 10:00","v":2.8},{"s":"L","t":"2018-11-27 11:00","v":2.8},{"s":"L","t":"2018-11-27 12:00","v":1.8},{"s":"L","t":"2018-11-27 13:00","v":1.5},{"s":"L","t":"2018-11-27 14:00","v":2.6},{"s":"L","t":"2018-11-27 15:00","v":3.0},{"s":"L","t":"2018-11-27 16:00","v":3.3},{"s":"L","t":"2018-11-27 17:00","v":2.4},{"s":"L","t":"2018-11-27 18:00","v":1.5},{"s":"L","t":"2018-11-27 19:00","v":2.3},{"s":"L","t":"2018-11-27 20:00","v":1.8},{"s":"L","t":"2018-11-27 21:00","v":1.6},{"s":"L","t":"2018-11-27 22:00","v":2.4},{"s":"L","t":"2018-11-27 23:00","v":1.6},{"s":"L","t":"2018-11-27 23:59","v":1.2},

        {"s":"M","t":"2018-11-25 05:20","v":0.8},{"s":"M","t":"2018-11-25 07:00","v":0.9},{"s":"M","t":"2018-11-25 08:00","v":1.2},{"s":"M","t":"2018-11-25 09:00","v":1.9},{"s":"M","t":"2018-11-25 10:00","v":1.6},{"s":"M","t":"2018-11-25 11:00","v":1.0},{"s":"M","t":"2018-11-25 12:00","v":1.2},{"s":"M","t":"2018-11-25 13:00","v":1.4},{"s":"M","t":"2018-11-25 14:00","v":1.4},{"s":"M","t":"2018-11-25 15:00","v":1.7},{"s":"M","t":"2018-11-25 16:00","v":1.7},{"s":"M","t":"2018-11-25 17:00","v":2.3},{"s":"M","t":"2018-11-25 18:00","v":1.6},{"s":"M","t":"2018-11-25 19:00","v":1.4},{"s":"M","t":"2018-11-25 20:00","v":1.2},{"s":"M","t":"2018-11-25 21:00","v":1.5},{"s":"M","t":"2018-11-25 22:00","v":2.0},{"s":"M","t":"2018-11-25 23:00","v":2.2},
        {"s":"M","t":"2018-11-26 00:00","v":1.8},{"s":"M","t":"2018-11-26 01:00","v":1.7},{"s":"M","t":"2018-11-26 02:00","v":1.3},{"s":"M","t":"2018-11-26 03:00","v":1.0},{"s":"M","t":"2018-11-26 04:00","v":1.0},{"s":"M","t":"2018-11-26 05:00","v":1.3},{"s":"M","t":"2018-11-26 06:00","v":2.0},{"s":"M","t":"2018-11-26 07:00","v":2.0},{"s":"M","t":"2018-11-26 08:00","v":1.9},{"s":"M","t":"2018-11-26 09:00","v":2.1},{"s":"M","t":"2018-11-26 10:00","v":1.5},{"s":"M","t":"2018-11-26 11:00","v":1.6},{"s":"M","t":"2018-11-26 12:00","v":1.5},{"s":"M","t":"2018-11-26 13:00","v":1.2},{"s":"M","t":"2018-11-26 14:00","v":0.8},{"s":"M","t":"2018-11-26 15:00","v":0.6},{"s":"M","t":"2018-11-26 16:00","v":0.6},{"s":"M","t":"2018-11-26 17:00","v":1.0},{"s":"M","t":"2018-11-26 18:00","v":1.3},{"s":"M","t":"2018-11-26 19:00","v":1.8},{"s":"M","t":"2018-11-26 20:00","v":2.4},{"s":"M","t":"2018-11-26 21:00","v":2.0},{"s":"M","t":"2018-11-26 22:00","v":1.4},{"s":"M","t":"2018-11-26 23:00","v":1.2},
        {"s":"M","t":"2018-11-27 00:00","v":1.0},{"s":"M","t":"2018-11-27 01:00","v":0.8},{"s":"M","t":"2018-11-27 02:00","v":1.2},{"s":"M","t":"2018-11-27 03:00","v":1.5},{"s":"M","t":"2018-11-27 04:00","v":1.0},{"s":"M","t":"2018-11-27 05:00","v":1.2},{"s":"M","t":"2018-11-27 06:00","v":1.8},{"s":"M","t":"2018-11-27 07:00","v":2.5},{"s":"M","t":"2018-11-27 08:00","v":2.6},{"s":"M","t":"2018-11-27 09:00","v":2.5},{"s":"M","t":"2018-11-27 10:00","v":2.2},{"s":"M","t":"2018-11-27 11:00","v":2.4},{"s":"M","t":"2018-11-27 12:00","v":2.4},{"s":"M","t":"2018-11-27 13:00","v":2.5},{"s":"M","t":"2018-11-27 14:00","v":2.6},{"s":"M","t":"2018-11-27 15:00","v":2.8},{"s":"M","t":"2018-11-27 16:00","v":2.7},{"s":"M","t":"2018-11-27 17:00","v":2.8},{"s":"M","t":"2018-11-27 18:00","v":2.5},{"s":"M","t":"2018-11-27 19:00","v":2.0},{"s":"M","t":"2018-11-27 20:00","v":2.7},{"s":"M","t":"2018-11-27 21:00","v":2.8},{"s":"M","t":"2018-11-27 22:00","v":2.2},{"s":"M","t":"2018-11-27 23:00","v":2.2},{"s":"M","t":"2018-11-27 23:59","v":2.8},

        {"s":"N","t":"2018-11-25 05:20","v":1.4},{"s":"N","t":"2018-11-25 06:00","v":1.3},{"s":"N","t":"2018-11-25 07:00","v":2.4},{"s":"N","t":"2018-11-25 08:00","v":2.2},{"s":"N","t":"2018-11-25 09:00","v":1.9},{"s":"N","t":"2018-11-25 10:00","v":1.4},{"s":"N","t":"2018-11-25 11:00","v":1.8},{"s":"N","t":"2018-11-25 12:00","v":1.7},{"s":"N","t":"2018-11-25 13:00","v":2.0},{"s":"N","t":"2018-11-25 14:00","v":2.0},{"s":"N","t":"2018-11-25 15:00","v":1.9},{"s":"N","t":"2018-11-25 16:00","v":1.4},{"s":"N","t":"2018-11-25 17:00","v":1.0},{"s":"N","t":"2018-11-25 18:00","v":1.0},{"s":"N","t":"2018-11-25 19:00","v":0.7},{"s":"N","t":"2018-11-25 20:00","v":1.9},{"s":"N","t":"2018-11-25 21:00","v":2.2},{"s":"N","t":"2018-11-25 22:00","v":2.0},{"s":"N","t":"2018-11-25 23:00","v":1.7},
        {"s":"N","t":"2018-11-26 00:00","v":1.4},{"s":"N","t":"2018-11-26 01:00","v":1.8},{"s":"N","t":"2018-11-26 02:00","v":1.4},{"s":"N","t":"2018-11-26 03:00","v":1.8},{"s":"N","t":"2018-11-26 04:00","v":2.0},{"s":"N","t":"2018-11-26 05:00","v":2.0},{"s":"N","t":"2018-11-26 06:00","v":1.6},{"s":"N","t":"2018-11-26 07:00","v":1.2},{"s":"N","t":"2018-11-26 08:00","v":1.4},{"s":"N","t":"2018-11-26 09:00","v":1.5},{"s":"N","t":"2018-11-26 10:00","v":1.6},{"s":"N","t":"2018-11-26 11:00","v":1.5},{"s":"N","t":"2018-11-26 12:00","v":1.4},{"s":"N","t":"2018-11-26 13:00","v":1.5},{"s":"N","t":"2018-11-26 14:00","v":1.5},{"s":"N","t":"2018-11-26 15:00","v":2.0},{"s":"N","t":"2018-11-26 16:00","v":1.5},{"s":"N","t":"2018-11-26 16:40","v":6.5},{"s":"N","t":"2018-11-26 17:00","v":5.0},{"s":"N","t":"2018-11-26 17:20","v":3.6},{"s":"N","t":"2018-11-26 17:40","v":3.1},{"s":"N","t":"2018-11-26 18:00","v":2.9},{"s":"N","t":"2018-11-26 19:00","v":2.8},{"s":"N","t":"2018-11-26 20:00","v":2.7},{"s":"N","t":"2018-11-26 21:00","v":1.5},{"s":"N","t":"2018-11-26 22:00","v":1.0},{"s":"N","t":"2018-11-26 23:00","v":1.0},
        {"s":"N","t":"2018-11-27 00:00","v":0.8},{"s":"N","t":"2018-11-27 02:00","v":1.2},{"s":"N","t":"2018-11-27 04:00","v":0.8},{"s":"N","t":"2018-11-27 06:00","v":0.8},{"s":"N","t":"2018-11-27 08:00","v":0.8},{"s":"N","t":"2018-11-27 10:00","v":1.0},{"s":"N","t":"2018-11-27 12:00","v":0.8},{"s":"N","t":"2018-11-27 14:00","v":1.0},{"s":"N","t":"2018-11-27 16:00","v":1.5},{"s":"N","t":"2018-11-27 18:00","v":1.0},{"s":"N","t":"2018-11-27 20:00","v":1.2},{"s":"N","t":"2018-11-27 22:00","v":0.8},{"s":"N","t":"2018-11-27 23:59","v":1.0},

        {"s":"O","t":"2018-11-25 05:20","v":0.9},{"s":"O","t":"2018-11-25 08:00","v":0.8},{"s":"O","t":"2018-11-25 10:00","v":1.0},{"s":"O","t":"2018-11-25 12:00","v":1.3},{"s":"O","t":"2018-11-25 14:00","v":1.0},{"s":"O","t":"2018-11-25 16:00","v":0.8},{"s":"O","t":"2018-11-25 18:00","v":1.0},{"s":"O","t":"2018-11-25 20:00","v":1.2},{"s":"O","t":"2018-11-25 22:00","v":1.0},
        {"s":"O","t":"2018-11-26 00:00","v":1.3},{"s":"O","t":"2018-11-26 02:00","v":1.0},{"s":"O","t":"2018-11-26 04:00","v":0.8},{"s":"O","t":"2018-11-26 06:00","v":0.5},{"s":"O","t":"2018-11-26 08:00","v":0.6},{"s":"O","t":"2018-11-26 10:00","v":1.2},{"s":"O","t":"2018-11-26 12:00","v":1.0},{"s":"O","t":"2018-11-26 14:00","v":0.8},{"s":"O","t":"2018-11-26 16:00","v":0.7},{"s":"O","t":"2018-11-26 18:00","v":0.5},{"s":"O","t":"2018-11-26 20:00","v":0.5},{"s":"O","t":"2018-11-26 22:00","v":0.7},
        {"s":"O","t":"2018-11-27 00:00","v":0.5},{"s":"O","t":"2018-11-27 02:00","v":0.6},{"s":"O","t":"2018-11-27 04:00","v":0.5},{"s":"O","t":"2018-11-27 06:00","v":0.7},{"s":"O","t":"2018-11-27 08:00","v":0.6},{"s":"O","t":"2018-11-27 10:00","v":0.5},{"s":"O","t":"2018-11-27 12:00","v":0.8},{"s":"O","t":"2018-11-27 14:00","v":0.6},{"s":"O","t":"2018-11-27 16:00","v":0.7},{"s":"O","t":"2018-11-27 18:00","v":0.6},{"s":"O","t":"2018-11-27 20:00","v":0.5},{"s":"O","t":"2018-11-27 22:00","v":0.6},{"s":"O","t":"2018-11-27 23:59","v":0.5}
      ]},
      "mark": {"type": "line", "strokeWidth": 1.7, "strokeJoin": "round"},
      "encoding": {
        "x": {
          "field": "t",
          "type": "temporal",
          "title": null,
          "scale": {"type": "utc", "domain": [1543122960000, 1543363140000]},
          "axis": {
            "tickCount": 12,
            "labelExpr": "utcFormat(datum.value, '%H') == '00' ? utcFormat(datum.value, '%a %d') : utcFormat(datum.value, '%H:%M')",
            "grid": false,
            "domainColor": "#999999",
            "domainWidth": 2,
            "tickColor": "#444444",
            "tickSize": 9,
            "tickWidth": 1.5,
            "labelFont": "Open Sans",
            "labelFontSize": 21,
            "labelColor": "#666666",
            "labelPadding": 5,
            "labelFlush": false
          }
        },
        "y": {
          "field": "v",
          "type": "quantitative",
          "title": null,
          "scale": {"domain": [0, 80], "nice": false},
          "axis": {
            "values": [0, 10, 20, 30, 40, 50, 60, 70, 80],
            "domain": false,
            "ticks": false,
            "gridColor": "#e6e6e6",
            "gridWidth": 2,
            "labelFont": "Open Sans",
            "labelFontSize": 21,
            "labelColor": "#666666",
            "labelPadding": 6
          }
        },
        "color": {
          "field": "s",
          "type": "nominal",
          "legend": null,
          "scale": {
            "domain": ["O","N","M","L","K","J","I","H","G","F","E","D","C","B","A"],
            "range": ["#f9d14b","#e8b62c","#86c3e1","#f9d14b","#8a78b8","#e8b62c","#a792ce","#8a78b8","#8a78b8","#e8b62c","#3f93c8","#3f93c8","#86c3e1","#f9d14b","#3f93c8"]
          }
        }
      }
    },
    {
      "data": {"values": [{}]},
      "mark": {"type": "rect", "fill": "#ffffff", "stroke": "#dddddd", "strokeWidth": 2, "cornerRadius": 4},
      "encoding": {
        "x": {"datum": 1543278480000, "type": "temporal"},
        "x2": {"datum": 1543339020000},
        "y": {"datum": 92.7, "type": "quantitative"},
        "y2": {"datum": 85.5}
      }
    },
    {
      "data": {"values": [{}]},
      "mark": {"type": "rect", "fill": "#e8e8e8", "cornerRadius": 4},
      "encoding": {
        "x": {"datum": 1543280220000, "type": "temporal"},
        "x2": {"datum": 1543285080000},
        "y": {"datum": 91.4, "type": "quantitative"},
        "y2": {"datum": 86.7}
      }
    },
    {
      "data": {"values": [{}]},
      "mark": {"type": "rect", "fill": "#ffffff", "stroke": "#dddddd", "strokeWidth": 2, "cornerRadius": 4},
      "encoding": {
        "x": {"datum": 1543340760000, "type": "temporal"},
        "x2": {"datum": 1543355700000},
        "y": {"datum": 92.7, "type": "quantitative"},
        "y2": {"datum": 85.5}
      }
    },
    {
      "data": {"values": [{}]},
      "mark": {"type": "rule", "stroke": "#dddddd", "strokeWidth": 1.5},
      "encoding": {
        "x": {"datum": 1543345680000, "type": "temporal"},
        "y": {"datum": 92.7, "type": "quantitative"},
        "y2": {"datum": 85.5}
      }
    },
    {
      "data": {"values": [{}]},
      "mark": {"type": "rule", "stroke": "#dddddd", "strokeWidth": 1.5},
      "encoding": {
        "x": {"datum": 1543350720000, "type": "temporal"},
        "y": {"datum": 92.7, "type": "quantitative"},
        "y2": {"datum": 85.5}
      }
    },
    {
      "data": {"values": [{}]},
      "mark": {"type": "text", "text": "3 d", "font": "Open Sans", "fontSize": 24, "color": "#555555", "align": "center", "baseline": "alphabetic"},
      "encoding": {
        "x": {"datum": 1543282620000, "type": "temporal"},
        "y": {"datum": 87.8, "type": "quantitative"}
      }
    },
    {
      "data": {"values": [{}]},
      "mark": {"type": "text", "text": "Nov 25, 5:16 am - Nov 27, 11:59 pm", "font": "Open Sans", "fontSize": 24, "color": "#333333", "align": "left", "baseline": "alphabetic"},
      "encoding": {
        "x": {"datum": 1543286700000, "type": "temporal"},
        "y": {"datum": 87.8, "type": "quantitative"}
      }
    },
    {
      "data": {"values": [{}]},
      "mark": {"type": "text", "text": "▼", "font": "DejaVu Sans", "fontSize": 14, "color": "#666666", "align": "center", "baseline": "middle"},
      "encoding": {
        "x": {"datum": 1543336740000, "type": "temporal"},
        "y": {"datum": 88.9, "type": "quantitative"}
      }
    },
    {
      "data": {"values": [{}]},
      "mark": {"type": "text", "text": "◀◀", "font": "DejaVu Sans", "fontSize": 21, "color": "#666666", "align": "center", "baseline": "middle"},
      "encoding": {
        "x": {"datum": 1543343100000, "type": "temporal"},
        "y": {"datum": 88.9, "type": "quantitative"}
      }
    },
    {
      "data": {"values": [{}]},
      "mark": {"type": "text", "text": "▶", "font": "DejaVu Sans", "fontSize": 27, "color": "#666666", "align": "center", "baseline": "middle"},
      "encoding": {
        "x": {"datum": 1543348320000, "type": "temporal"},
        "y": {"datum": 88.9, "type": "quantitative"}
      }
    },
    {
      "data": {"values": [{}]},
      "mark": {"type": "text", "text": "▶▶", "font": "DejaVu Sans", "fontSize": 21, "color": "#666666", "align": "center", "baseline": "middle"},
      "encoding": {
        "x": {"datum": 1543353180000, "type": "temporal"},
        "y": {"datum": 88.9, "type": "quantitative"}
      }
    },
    {
      "data": {"values": [{}]},
      "mark": {"type": "rule", "stroke": "#999999", "strokeWidth": 1.5},
      "encoding": {
        "x": {"datum": 1543362660000, "type": "temporal"},
        "x2": {"datum": 1543365000000},
        "y": {"datum": 93.65, "type": "quantitative"},
        "y2": {"datum": 90.4}
      }
    },
    {
      "data": {"values": [{}]},
      "mark": {"type": "rule", "stroke": "#999999", "strokeWidth": 1.5},
      "encoding": {
        "x": {"datum": 1543362660000, "type": "temporal"},
        "x2": {"datum": 1543365000000},
        "y": {"datum": 90.4, "type": "quantitative"},
        "y2": {"datum": 93.65}
      }
    }
  ]
}
